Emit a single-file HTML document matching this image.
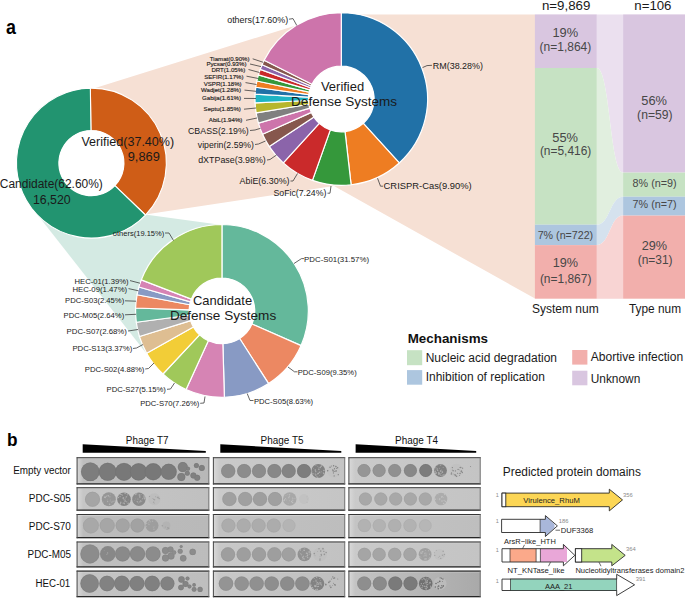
<!DOCTYPE html>
<html><head><meta charset="utf-8"><style>html,body{margin:0;padding:0;background:#fff;overflow:hidden}svg{display:block;font-family:"Liberation Sans",sans-serif}</style></head><body>
<svg width="685" height="599" viewBox="0 0 685 599">
<rect width="685" height="599" fill="#fff"/>
<path d="M90.4,89.4 L320.0,17.96 L341.3,16.0 L356,14.4 L535,14.4 L535,298.6 L334.0,186.0 L145.1,214.6 Z" fill="#f6e0d4"/>
<path d="M145.1,214.6 L222.0,225.1 L222.0,310 L154.3,363.6 L38.3,215.7 Z" fill="#d4eae3"/>
<path d="M596.8,14.4 C609.95,14.4 609.95,14.4 623.1,14.4 L623.1,172.6 C609.95,172.6 609.95,68.0 596.8,68.0 Z" fill="#ebe0ef"/>
<rect x="534.9" y="14.4" width="61.90" height="53.60" fill="#d9c6e0"/>
<rect x="623.1" y="14.4" width="62.40" height="158.20" fill="#d9c6e0"/>
<path d="M596.8,68.0 C609.95,68.0 609.95,172.6 623.1,172.6 L623.1,196.7 C609.95,196.7 609.95,224.7 596.8,224.7 Z" fill="#e1efdf"/>
<rect x="534.9" y="68.0" width="61.90" height="156.70" fill="#c6e2c3"/>
<rect x="623.1" y="172.6" width="62.40" height="24.10" fill="#c6e2c3"/>
<path d="M596.8,224.7 C609.95,224.7 609.95,196.7 623.1,196.7 L623.1,215.6 C609.95,215.6 609.95,245.1 596.8,245.1 Z" fill="#d5e2ee"/>
<rect x="534.9" y="224.7" width="61.90" height="20.40" fill="#adc6df"/>
<rect x="623.1" y="196.7" width="62.40" height="18.90" fill="#adc6df"/>
<path d="M596.8,245.1 C609.95,245.1 609.95,215.6 623.1,215.6 L623.1,298.7 C609.95,298.7 609.95,298.7 596.8,298.7 Z" fill="#f8d4d3"/>
<rect x="534.9" y="245.1" width="61.90" height="53.60" fill="#f2afac"/>
<rect x="623.1" y="215.6" width="62.40" height="83.10" fill="#f2afac"/>
<path d="M90.35,88.16A74.95,74.95 0 0 1 145.46,215.01L114.88,185.65A32.55,32.55 0 0 0 90.95,130.55Z" fill="#cf5d17" stroke="#fff" stroke-width="1.1" stroke-linejoin="round"/>
<path d="M145.46,215.01A74.95,74.95 0 1 1 90.35,88.16L90.95,130.55A32.55,32.55 0 1 0 114.88,185.65Z" fill="#229470" stroke="#fff" stroke-width="1.1" stroke-linejoin="round"/>
<path d="M341.30,12.70A86.3,86.3 0 0 1 399.25,162.95L363.32,123.31A32.8,32.8 0 0 0 341.30,66.20Z" fill="#2171a7" stroke="#fff" stroke-width="1.2" stroke-linejoin="round"/>
<path d="M399.25,162.95A86.3,86.3 0 0 1 351.12,184.74L345.03,131.59A32.8,32.8 0 0 0 363.32,123.31Z" fill="#ee7d22" stroke="#fff" stroke-width="1.2" stroke-linejoin="round"/>
<path d="M351.12,184.74A86.3,86.3 0 0 1 312.45,180.33L330.33,129.91A32.8,32.8 0 0 0 345.03,131.59Z" fill="#35983b" stroke="#fff" stroke-width="1.2" stroke-linejoin="round"/>
<path d="M312.45,180.33A86.3,86.3 0 0 1 283.31,162.92L319.26,123.29A32.8,32.8 0 0 0 330.33,129.91Z" fill="#ca2a2b" stroke="#fff" stroke-width="1.2" stroke-linejoin="round"/>
<path d="M283.31,162.92A86.3,86.3 0 0 1 269.30,146.58L313.93,117.08A32.8,32.8 0 0 0 319.26,123.29Z" fill="#8b64aa" stroke="#fff" stroke-width="1.2" stroke-linejoin="round"/>
<path d="M269.30,146.58A86.3,86.3 0 0 1 262.54,134.28L311.37,112.41A32.8,32.8 0 0 0 313.93,117.08Z" fill="#86574d" stroke="#fff" stroke-width="1.2" stroke-linejoin="round"/>
<path d="M262.54,134.28A86.3,86.3 0 0 1 258.45,123.14L309.81,108.18A32.8,32.8 0 0 0 311.37,112.41Z" fill="#cd74ab" stroke="#fff" stroke-width="1.2" stroke-linejoin="round"/>
<path d="M258.45,123.14A86.3,86.3 0 0 1 256.13,112.89L308.93,104.28A32.8,32.8 0 0 0 309.81,108.18Z" fill="#808080" stroke="#fff" stroke-width="1.2" stroke-linejoin="round"/>
<path d="M256.13,112.89A86.3,86.3 0 0 1 255.09,102.92L308.53,100.49A32.8,32.8 0 0 0 308.93,104.28Z" fill="#b7b62d" stroke="#fff" stroke-width="1.2" stroke-linejoin="round"/>
<path d="M255.09,102.92A86.3,86.3 0 0 1 255.13,94.19L308.55,97.17A32.8,32.8 0 0 0 308.53,100.49Z" fill="#1eb4c4" stroke="#fff" stroke-width="1.2" stroke-linejoin="round"/>
<path d="M255.13,94.19A86.3,86.3 0 0 1 255.80,87.28L308.80,94.55A32.8,32.8 0 0 0 308.55,97.17Z" fill="#2171a7" stroke="#fff" stroke-width="1.2" stroke-linejoin="round"/>
<path d="M255.80,87.28A86.3,86.3 0 0 1 256.90,80.98L309.22,92.15A32.8,32.8 0 0 0 308.80,94.55Z" fill="#ee7d22" stroke="#fff" stroke-width="1.2" stroke-linejoin="round"/>
<path d="M256.90,80.98A86.3,86.3 0 0 1 258.45,74.83L309.81,89.81A32.8,32.8 0 0 0 309.22,92.15Z" fill="#35983b" stroke="#fff" stroke-width="1.2" stroke-linejoin="round"/>
<path d="M258.45,74.83A86.3,86.3 0 0 1 260.23,69.42L310.49,87.76A32.8,32.8 0 0 0 309.81,89.81Z" fill="#ca2a2b" stroke="#fff" stroke-width="1.2" stroke-linejoin="round"/>
<path d="M260.23,69.42A86.3,86.3 0 0 1 262.09,64.74L311.20,85.98A32.8,32.8 0 0 0 310.49,87.76Z" fill="#8b64aa" stroke="#fff" stroke-width="1.2" stroke-linejoin="round"/>
<path d="M262.09,64.74A86.3,86.3 0 0 1 264.16,60.31L311.98,84.30A32.8,32.8 0 0 0 311.20,85.98Z" fill="#86574d" stroke="#fff" stroke-width="1.2" stroke-linejoin="round"/>
<path d="M264.16,60.31A86.3,86.3 0 0 1 341.30,12.70L341.30,66.20A32.8,32.8 0 0 0 311.98,84.30Z" fill="#cd74ab" stroke="#fff" stroke-width="1.2" stroke-linejoin="round"/>
<path d="M221.95,224.50A86.4,86.4 0 0 1 301.09,345.58L251.99,324.06A32.8,32.8 0 0 0 221.95,278.10Z" fill="#64b89b" stroke="#fff" stroke-width="1.2" stroke-linejoin="round"/>
<path d="M301.09,345.58A86.4,86.4 0 0 1 268.59,383.63L239.66,338.51A32.8,32.8 0 0 0 251.99,324.06Z" fill="#ec8862" stroke="#fff" stroke-width="1.2" stroke-linejoin="round"/>
<path d="M268.59,383.63A86.4,86.4 0 0 1 224.37,397.27L222.87,343.69A32.8,32.8 0 0 0 239.66,338.51Z" fill="#889ac4" stroke="#fff" stroke-width="1.2" stroke-linejoin="round"/>
<path d="M224.37,397.27A86.4,86.4 0 0 1 186.07,389.50L208.33,340.74A32.8,32.8 0 0 0 222.87,343.69Z" fill="#d684b4" stroke="#fff" stroke-width="1.2" stroke-linejoin="round"/>
<path d="M186.07,389.50A86.4,86.4 0 0 1 162.94,374.01L199.55,334.86A32.8,32.8 0 0 0 208.33,340.74Z" fill="#a0c85a" stroke="#fff" stroke-width="1.2" stroke-linejoin="round"/>
<path d="M162.94,374.01A86.4,86.4 0 0 1 146.64,353.25L193.36,326.98A32.8,32.8 0 0 0 199.55,334.86Z" fill="#f2cd37" stroke="#fff" stroke-width="1.2" stroke-linejoin="round"/>
<path d="M146.64,353.25A86.4,86.4 0 0 1 139.42,336.48L190.62,320.61A32.8,32.8 0 0 0 193.36,326.98Z" fill="#debe92" stroke="#fff" stroke-width="1.2" stroke-linejoin="round"/>
<path d="M139.42,336.48A86.4,86.4 0 0 1 136.30,322.28L189.44,315.22A32.8,32.8 0 0 0 190.62,320.61Z" fill="#b0b0b0" stroke="#fff" stroke-width="1.2" stroke-linejoin="round"/>
<path d="M136.30,322.28A86.4,86.4 0 0 1 135.60,307.98L189.17,309.79A32.8,32.8 0 0 0 189.44,315.22Z" fill="#64b89b" stroke="#fff" stroke-width="1.2" stroke-linejoin="round"/>
<path d="M135.60,307.98A86.4,86.4 0 0 1 137.07,294.78L189.73,304.78A32.8,32.8 0 0 0 189.17,309.79Z" fill="#ec8862" stroke="#fff" stroke-width="1.2" stroke-linejoin="round"/>
<path d="M137.07,294.78A86.4,86.4 0 0 1 138.92,287.01L190.43,301.83A32.8,32.8 0 0 0 189.73,304.78Z" fill="#889ac4" stroke="#fff" stroke-width="1.2" stroke-linejoin="round"/>
<path d="M138.92,287.01A86.4,86.4 0 0 1 141.32,279.86L191.34,299.12A32.8,32.8 0 0 0 190.43,301.83Z" fill="#d684b4" stroke="#fff" stroke-width="1.2" stroke-linejoin="round"/>
<path d="M141.32,279.86A86.4,86.4 0 0 1 221.95,224.50L221.95,278.10A32.8,32.8 0 0 0 191.34,299.12Z" fill="#a0c85a" stroke="#fff" stroke-width="1.2" stroke-linejoin="round"/>
<circle cx="91.4" cy="163.1" r="32.55" fill="#fff"/>
<circle cx="341.3" cy="99.0" r="32.8" fill="#fff"/>
<circle cx="221.95" cy="310.9" r="32.8" fill="#fff"/>
<text x="5.90" y="34.20" font-size="20" font-weight="bold" fill="#000" textLength="9.94" lengthAdjust="spacingAndGlyphs">a</text>
<text x="81.40" y="146.10" font-size="12.7" fill="#1a1a1a" textLength="92.78" lengthAdjust="spacingAndGlyphs">Verified(37.40%)</text>
<text x="127.70" y="160.50" font-size="12.7" fill="#1a1a1a" textLength="32.07" lengthAdjust="spacingAndGlyphs">9,869</text>
<text x="-0.20" y="187.60" font-size="12.5" fill="#1a1a1a" textLength="103.02" lengthAdjust="spacingAndGlyphs">Candidate(62.60%)</text>
<text x="32.90" y="204.00" font-size="12.5" fill="#1a1a1a" textLength="37.78" lengthAdjust="spacingAndGlyphs">16,520</text>
<text x="320.90" y="90.80" font-size="12.8" fill="#1a1a1a" textLength="43.31" lengthAdjust="spacingAndGlyphs">Verified</text>
<text x="291.10" y="106.20" font-size="12.8" fill="#1a1a1a" textLength="106.02" lengthAdjust="spacingAndGlyphs">Defense Systems</text>
<text x="193.00" y="304.60" font-size="12.8" fill="#1a1a1a" textLength="59.09" lengthAdjust="spacingAndGlyphs">Candidate</text>
<text x="169.90" y="319.50" font-size="12.8" fill="#1a1a1a" textLength="106.32" lengthAdjust="spacingAndGlyphs">Defense Systems</text>
<text x="227.20" y="22.50" font-size="9" fill="#1a1a1a" textLength="60.92" lengthAdjust="spacingAndGlyphs">others(17.60%)</text>
<text x="432.80" y="68.50" font-size="9" fill="#1a1a1a" textLength="50.18" lengthAdjust="spacingAndGlyphs">RM(38.28%)</text>
<text x="383.60" y="188.80" font-size="9" fill="#1a1a1a" textLength="88.11" lengthAdjust="spacingAndGlyphs">CRISPR-Cas(9.90%)</text>
<text x="273.50" y="196.00" font-size="9" fill="#1a1a1a" textLength="52.88" lengthAdjust="spacingAndGlyphs">SoFic(7.24%)</text>
<text x="239.50" y="183.60" font-size="9" fill="#1a1a1a" textLength="50.09" lengthAdjust="spacingAndGlyphs">AbiE(6.30%)</text>
<text x="198.20" y="162.80" font-size="9" fill="#1a1a1a" textLength="67.60" lengthAdjust="spacingAndGlyphs">dXTPase(3.98%)</text>
<text x="197.80" y="147.50" font-size="9" fill="#1a1a1a" textLength="56.18" lengthAdjust="spacingAndGlyphs">viperin(2.59%)</text>
<text x="188.00" y="133.70" font-size="9" fill="#1a1a1a" textLength="60.82" lengthAdjust="spacingAndGlyphs">CBASS(2.19%)</text>
<text x="209.83" y="61.40" font-size="6.1" fill="#1a1a1a" stroke="#1a1a1a" stroke-width="0.15">Tiamat(0.90%)</text>
<text x="206.48" y="66.40" font-size="6.1" fill="#1a1a1a" stroke="#1a1a1a" stroke-width="0.15">Pycsar(0.93%)</text>
<text x="211.41" y="71.70" font-size="6.1" fill="#1a1a1a" stroke="#1a1a1a" stroke-width="0.15">DRT(1.05%)</text>
<text x="204.19" y="78.70" font-size="6.1" fill="#1a1a1a" stroke="#1a1a1a" stroke-width="0.15">SEFIR(1.17%)</text>
<text x="203.73" y="86.00" font-size="6.1" fill="#1a1a1a" stroke="#1a1a1a" stroke-width="0.15">VSPR(1.18%)</text>
<text x="200.99" y="92.30" font-size="6.1" fill="#1a1a1a" stroke="#1a1a1a" stroke-width="0.15">Wadjet(1.28%)</text>
<text x="202.02" y="99.80" font-size="6.1" fill="#1a1a1a" stroke="#1a1a1a" stroke-width="0.15">Gabija(1.61%)</text>
<text x="203.60" y="111.20" font-size="6.1" fill="#1a1a1a" stroke="#1a1a1a" stroke-width="0.15">Septu(1.85%)</text>
<text x="208.82" y="122.30" font-size="6.1" fill="#1a1a1a" stroke="#1a1a1a" stroke-width="0.15">AbiL(1.94%)</text>
<path d="M289.00,19.20 L293.00,18.60 L296.80,25.50" fill="none" stroke="#333333" stroke-width="0.75"/>
<path d="M422.50,67.60 L427.00,65.60 L432.00,65.30" fill="none" stroke="#333333" stroke-width="0.75"/>
<path d="M377.50,178.20 L380.50,186.20 L383.00,186.20" fill="none" stroke="#333333" stroke-width="0.75"/>
<path d="M327.50,193.20 L330.00,193.20 L331.00,186.00" fill="none" stroke="#333333" stroke-width="0.75"/>
<path d="M290.50,181.00 L293.00,181.00 L297.50,173.50" fill="none" stroke="#333333" stroke-width="0.75"/>
<path d="M267.00,160.00 L270.00,159.50 L276.50,155.00" fill="none" stroke="#333333" stroke-width="0.75"/>
<path d="M255.00,144.50 L258.50,144.00 L265.50,141.00" fill="none" stroke="#333333" stroke-width="0.75"/>
<path d="M250.00,130.50 L255.00,130.00 L260.50,128.30" fill="none" stroke="#333333" stroke-width="0.75"/>
<path d="M252.70,58.80 L263.20,62.30" fill="none" stroke="#333333" stroke-width="0.75"/>
<path d="M250.00,64.00 L261.00,66.60" fill="none" stroke="#333333" stroke-width="0.75"/>
<path d="M248.50,69.50 L259.50,72.50" fill="none" stroke="#333333" stroke-width="0.75"/>
<path d="M246.50,76.20 L258.30,78.50" fill="none" stroke="#333333" stroke-width="0.75"/>
<path d="M245.50,82.60 L256.50,84.50" fill="none" stroke="#333333" stroke-width="0.75"/>
<path d="M244.50,90.10 L256.00,91.30" fill="none" stroke="#333333" stroke-width="0.75"/>
<path d="M244.00,98.40 L256.00,98.50" fill="none" stroke="#333333" stroke-width="0.75"/>
<path d="M244.00,109.20 L256.00,108.00" fill="none" stroke="#333333" stroke-width="0.75"/>
<path d="M246.00,120.30 L257.00,118.00" fill="none" stroke="#333333" stroke-width="0.75"/>
<text x="112.80" y="235.80" font-size="7.7" fill="#1a1a1a" textLength="51.42" lengthAdjust="spacingAndGlyphs">others(19.15%)</text>
<text x="304.10" y="262.20" font-size="7.7" fill="#1a1a1a" textLength="64.91" lengthAdjust="spacingAndGlyphs">PDC-S01(31.57%)</text>
<text x="297.70" y="374.50" font-size="7.7" fill="#1a1a1a" textLength="59.00" lengthAdjust="spacingAndGlyphs">PDC-S09(9.35%)</text>
<text x="253.90" y="403.50" font-size="7.7" fill="#1a1a1a" textLength="59.10" lengthAdjust="spacingAndGlyphs">PDC-S05(8.63%)</text>
<text x="140.20" y="406.20" font-size="7.7" fill="#1a1a1a" textLength="59.10" lengthAdjust="spacingAndGlyphs">PDC-S70(7.26%)</text>
<text x="106.50" y="392.20" font-size="7.7" fill="#1a1a1a" textLength="59.40" lengthAdjust="spacingAndGlyphs">PDC-S27(5.15%)</text>
<text x="84.80" y="371.80" font-size="7.7" fill="#1a1a1a" textLength="59.60" lengthAdjust="spacingAndGlyphs">PDC-S02(4.88%)</text>
<text x="72.40" y="351.10" font-size="7.7" fill="#1a1a1a" textLength="59.90" lengthAdjust="spacingAndGlyphs">PDC-S13(3.37%)</text>
<text x="66.60" y="333.90" font-size="7.7" fill="#1a1a1a" textLength="60.30" lengthAdjust="spacingAndGlyphs">PDC-S07(2.68%)</text>
<text x="63.60" y="318.20" font-size="7.7" fill="#1a1a1a" textLength="60.61" lengthAdjust="spacingAndGlyphs">PDC-M05(2.64%)</text>
<text x="65.10" y="303.30" font-size="7.7" fill="#1a1a1a" textLength="59.10" lengthAdjust="spacingAndGlyphs">PDC-S03(2.45%)</text>
<text x="72.40" y="291.60" font-size="7.7" fill="#1a1a1a" textLength="54.79" lengthAdjust="spacingAndGlyphs">HEC-09(1.47%)</text>
<text x="74.60" y="283.90" font-size="7.7" fill="#1a1a1a" textLength="53.99" lengthAdjust="spacingAndGlyphs">HEC-01(1.39%)</text>
<path d="M165.00,233.00 L169.00,233.00 L173.50,240.50" fill="none" stroke="#333333" stroke-width="0.75"/>
<path d="M294.00,263.50 L301.50,258.60 L304.00,258.60" fill="none" stroke="#333333" stroke-width="0.75"/>
<path d="M288.00,367.00 L294.50,371.80 L297.50,371.80" fill="none" stroke="#333333" stroke-width="0.75"/>
<path d="M247.20,393.50 L250.00,400.50 L253.50,400.50" fill="none" stroke="#333333" stroke-width="0.75"/>
<path d="M200.20,403.30 L204.00,403.00 L205.00,396.50" fill="none" stroke="#333333" stroke-width="0.75"/>
<path d="M167.00,389.30 L170.50,389.00 L174.50,383.00" fill="none" stroke="#333333" stroke-width="0.75"/>
<path d="M145.20,369.00 L148.50,368.50 L154.00,363.00" fill="none" stroke="#333333" stroke-width="0.75"/>
<path d="M133.00,348.50 L136.50,348.00 L143.00,344.50" fill="none" stroke="#333333" stroke-width="0.75"/>
<path d="M128.00,331.00 L138.00,329.50" fill="none" stroke="#333333" stroke-width="0.75"/>
<path d="M125.00,314.80 L136.00,314.30" fill="none" stroke="#333333" stroke-width="0.75"/>
<path d="M125.00,300.80 L136.00,301.20" fill="none" stroke="#333333" stroke-width="0.75"/>
<path d="M128.50,288.60 L138.50,290.80" fill="none" stroke="#333333" stroke-width="0.75"/>
<path d="M130.00,280.60 L140.00,283.20" fill="none" stroke="#333333" stroke-width="0.75"/>
<text x="541.90" y="9.90" font-size="13" fill="#1a1a1a" textLength="48.47" lengthAdjust="spacingAndGlyphs">n=9,869</text>
<text x="634.30" y="9.90" font-size="13" fill="#1a1a1a" textLength="37.18" lengthAdjust="spacingAndGlyphs">n=106</text>
<text x="552.40" y="36.80" font-size="12.3" fill="#474747" textLength="25.72" lengthAdjust="spacingAndGlyphs">19%</text>
<text x="539.60" y="50.90" font-size="12.3" fill="#474747" textLength="51.69" lengthAdjust="spacingAndGlyphs">(n=1,864)</text>
<text x="552.30" y="141.70" font-size="12.3" fill="#474747" textLength="25.72" lengthAdjust="spacingAndGlyphs">55%</text>
<text x="539.90" y="155.30" font-size="12.3" fill="#474747" textLength="51.39" lengthAdjust="spacingAndGlyphs">(n=5,416)</text>
<text x="537.70" y="239.00" font-size="10.5" fill="#474747" textLength="55.48" lengthAdjust="spacingAndGlyphs">7% (n=722)</text>
<text x="552.80" y="267.40" font-size="12.3" fill="#474747" textLength="25.32" lengthAdjust="spacingAndGlyphs">19%</text>
<text x="539.90" y="282.70" font-size="12.3" fill="#474747" textLength="51.49" lengthAdjust="spacingAndGlyphs">(n=1,867)</text>
<text x="641.30" y="104.90" font-size="12.3" fill="#474747" textLength="25.72" lengthAdjust="spacingAndGlyphs">56%</text>
<text x="637.10" y="118.90" font-size="12.3" fill="#474747" textLength="35.48" lengthAdjust="spacingAndGlyphs">(n=59)</text>
<text x="632.60" y="187.10" font-size="10.5" fill="#474747" textLength="44.01" lengthAdjust="spacingAndGlyphs">8% (n=9)</text>
<text x="632.60" y="207.70" font-size="10.5" fill="#474747" textLength="44.01" lengthAdjust="spacingAndGlyphs">7% (n=7)</text>
<text x="641.70" y="250.20" font-size="12.3" fill="#474747" textLength="25.42" lengthAdjust="spacingAndGlyphs">29%</text>
<text x="637.70" y="264.30" font-size="12.3" fill="#474747" textLength="34.88" lengthAdjust="spacingAndGlyphs">(n=31)</text>
<text x="532.00" y="313.00" font-size="12" fill="#1a1a1a" textLength="66.63" lengthAdjust="spacingAndGlyphs">System num</text>
<text x="629.00" y="313.00" font-size="12" fill="#1a1a1a" textLength="52.01" lengthAdjust="spacingAndGlyphs">Type num</text>
<text x="407.70" y="343.00" font-size="13" font-weight="bold" fill="#111" textLength="80.37" lengthAdjust="spacingAndGlyphs">Mechanisms</text>
<rect x="407" y="350.2" width="15.2" height="15" fill="#c6e2c3"/>
<rect x="407" y="370.1" width="15.2" height="14.6" fill="#adc6df"/>
<rect x="572.2" y="350" width="15.2" height="14.6" fill="#f2afac"/>
<rect x="572.2" y="370.7" width="15.2" height="14.6" fill="#d9c6e0"/>
<text x="425.70" y="361.90" font-size="12" fill="#1a1a1a" textLength="131.32" lengthAdjust="spacingAndGlyphs">Nucleic acid degradation</text>
<text x="425.70" y="381.00" font-size="12" fill="#1a1a1a" textLength="119.11" lengthAdjust="spacingAndGlyphs">Inhibition of replication</text>
<text x="590.70" y="361.00" font-size="12" fill="#1a1a1a" textLength="92.51" lengthAdjust="spacingAndGlyphs">Abortive infection</text>
<text x="590.70" y="382.90" font-size="12" fill="#1a1a1a" textLength="49.59" lengthAdjust="spacingAndGlyphs">Unknown</text>
<text x="7.00" y="445.90" font-size="19" font-weight="bold" fill="#000" textLength="10.51" lengthAdjust="spacingAndGlyphs">b</text>
<text x="125.80" y="443.80" font-size="10" fill="#111" textLength="42.69" lengthAdjust="spacingAndGlyphs">Phage T7</text>
<text x="260.60" y="443.80" font-size="10" fill="#111" textLength="42.89" lengthAdjust="spacingAndGlyphs">Phage T5</text>
<text x="395.10" y="443.80" font-size="10" fill="#111" textLength="42.89" lengthAdjust="spacingAndGlyphs">Phage T4</text>
<path d="M82.7,444.3 L205.8,451.0 L205.8,452.7 L82.7,452.7 Z" fill="#000"/>
<path d="M220.3,444.3 L341.3,451.0 L341.3,452.7 L220.3,452.7 Z" fill="#000"/>
<path d="M355.6,444.3 L476.2,451.0 L476.2,452.7 L355.6,452.7 Z" fill="#000"/>
<text x="13.20" y="473.70" font-size="10" fill="#111" textLength="57.70" lengthAdjust="spacingAndGlyphs">Empty vector</text>
<text x="28.80" y="501.80" font-size="10" fill="#111" textLength="42.09" lengthAdjust="spacingAndGlyphs">PDC-S05</text>
<text x="28.80" y="530.00" font-size="10" fill="#111" textLength="42.09" lengthAdjust="spacingAndGlyphs">PDC-S70</text>
<text x="27.60" y="558.30" font-size="10" fill="#111" textLength="43.30" lengthAdjust="spacingAndGlyphs">PDC-M05</text>
<text x="35.60" y="586.70" font-size="10" fill="#111" textLength="34.62" lengthAdjust="spacingAndGlyphs">HEC-01</text>
<g filter="url(#soft)">
<rect x="76.6" y="457.3" width="132.70" height="27.20" fill="url(#pg00)"/>
<circle cx="90.30" cy="471.80" r="9.30" fill="#7d7d7d"/>
<circle cx="90.30" cy="471.80" r="8.95" fill="none" stroke="#737373" stroke-width="0.7" opacity="0.6"/>
<circle cx="107.70" cy="471.80" r="9.00" fill="#7a7a7a"/>
<circle cx="107.70" cy="471.80" r="8.65" fill="none" stroke="#707070" stroke-width="0.7" opacity="0.6"/>
<circle cx="124.00" cy="471.80" r="8.90" fill="#787878"/>
<circle cx="124.00" cy="471.80" r="8.55" fill="none" stroke="#6e6e6e" stroke-width="0.7" opacity="0.6"/>
<circle cx="138.60" cy="471.80" r="8.60" fill="#787878"/>
<circle cx="138.60" cy="471.80" r="8.25" fill="none" stroke="#6e6e6e" stroke-width="0.7" opacity="0.6"/>
<circle cx="153.20" cy="471.80" r="8.50" fill="#787878"/>
<circle cx="153.20" cy="471.80" r="8.15" fill="none" stroke="#6e6e6e" stroke-width="0.7" opacity="0.6"/>
<circle cx="168.70" cy="471.80" r="8.00" fill="#7a7a7a"/>
<circle cx="168.70" cy="471.80" r="7.65" fill="none" stroke="#707070" stroke-width="0.7" opacity="0.6"/>
<circle cx="182.80" cy="467.10" r="5.00" fill="#808080"/>
<circle cx="182.80" cy="467.10" r="4.65" fill="none" stroke="#767676" stroke-width="0.7" opacity="0.6"/>
<circle cx="181.30" cy="477.00" r="4.00" fill="#808080"/>
<circle cx="181.30" cy="477.00" r="3.65" fill="none" stroke="#767676" stroke-width="0.7" opacity="0.6"/>
<circle cx="187.30" cy="473.20" r="2.50" fill="#828282"/>
<circle cx="187.30" cy="473.20" r="2.15" fill="none" stroke="#787878" stroke-width="0.7" opacity="0.6"/>
<circle cx="188.10" cy="468.70" r="2.00" fill="#828282"/>
<circle cx="188.10" cy="468.70" r="1.65" fill="none" stroke="#787878" stroke-width="0.7" opacity="0.6"/>
<circle cx="196.40" cy="465.60" r="2.50" fill="#808080"/>
<circle cx="196.40" cy="465.60" r="2.15" fill="none" stroke="#767676" stroke-width="0.7" opacity="0.6"/>
<circle cx="201.80" cy="467.90" r="3.00" fill="#808080"/>
<circle cx="201.80" cy="467.90" r="2.65" fill="none" stroke="#767676" stroke-width="0.7" opacity="0.6"/>
<circle cx="193.40" cy="475.50" r="3.00" fill="#808080"/>
<circle cx="193.40" cy="475.50" r="2.65" fill="none" stroke="#767676" stroke-width="0.7" opacity="0.6"/>
<circle cx="197.20" cy="477.80" r="3.00" fill="#808080"/>
<circle cx="197.20" cy="477.80" r="2.65" fill="none" stroke="#767676" stroke-width="0.7" opacity="0.6"/>
<path d="M77.10,458.50 H208.80" stroke="#e2e2e2" stroke-width="0.9" opacity="0.8"/>
<path d="M76.60,457.80 H209.30" stroke="#353535" stroke-width="1.1"/>
<path d="M76.60,483.90 H209.30" stroke="#262626" stroke-width="1.3"/>
<path d="M77.10,457.30 V484.50" stroke="#4a4a4a" stroke-width="1.0"/>
<path d="M208.80,457.30 V484.50" stroke="#707070" stroke-width="0.9"/>
<rect x="76.6" y="487.2" width="132.70" height="23.60" fill="url(#pg01)"/>
<circle cx="92.50" cy="499.30" r="7.50" fill="#a5a5a5"/>
<circle cx="92.50" cy="499.30" r="7.15" fill="none" stroke="#9b9b9b" stroke-width="0.7" opacity="0.6"/>
<circle cx="108.80" cy="499.30" r="7.00" fill="#969696"/>
<circle cx="107.68" cy="501.54" r="0.64" fill="#b5b5b5"/>
<circle cx="113.03" cy="501.37" r="0.51" fill="#b5b5b5"/>
<circle cx="113.09" cy="500.93" r="0.37" fill="#b5b5b5"/>
<circle cx="107.24" cy="499.99" r="0.39" fill="#b5b5b5"/>
<circle cx="103.59" cy="501.97" r="0.41" fill="#b5b5b5"/>
<circle cx="109.65" cy="504.33" r="0.78" fill="#b5b5b5"/>
<circle cx="105.21" cy="497.41" r="0.79" fill="#b5b5b5"/>
<circle cx="114.51" cy="501.02" r="0.48" fill="#b5b5b5"/>
<circle cx="110.16" cy="501.04" r="0.49" fill="#b5b5b5"/>
<circle cx="109.90" cy="496.79" r="0.61" fill="#b5b5b5"/>
<circle cx="106.27" cy="496.29" r="0.60" fill="#b5b5b5"/>
<circle cx="110.25" cy="499.90" r="0.44" fill="#b5b5b5"/>
<circle cx="107.02" cy="495.49" r="0.49" fill="#b5b5b5"/>
<circle cx="105.08" cy="497.08" r="0.48" fill="#b5b5b5"/>
<circle cx="110.28" cy="494.12" r="0.46" fill="#b5b5b5"/>
<circle cx="104.63" cy="497.20" r="0.74" fill="#b5b5b5"/>
<circle cx="108.35" cy="495.87" r="0.79" fill="#b5b5b5"/>
<circle cx="111.87" cy="502.11" r="0.69" fill="#b5b5b5"/>
<circle cx="124.00" cy="499.30" r="6.80" fill="#848484"/>
<circle cx="126.53" cy="502.87" r="0.37" fill="#afafaf"/>
<circle cx="121.31" cy="494.54" r="0.61" fill="#afafaf"/>
<circle cx="126.48" cy="496.83" r="0.66" fill="#afafaf"/>
<circle cx="120.05" cy="496.64" r="0.56" fill="#afafaf"/>
<circle cx="127.26" cy="494.16" r="0.56" fill="#afafaf"/>
<circle cx="123.21" cy="497.98" r="0.67" fill="#afafaf"/>
<circle cx="120.24" cy="494.32" r="0.72" fill="#afafaf"/>
<circle cx="123.16" cy="503.09" r="0.65" fill="#afafaf"/>
<circle cx="128.21" cy="499.90" r="0.43" fill="#afafaf"/>
<circle cx="125.13" cy="500.32" r="0.70" fill="#afafaf"/>
<circle cx="126.14" cy="501.56" r="0.53" fill="#afafaf"/>
<circle cx="125.23" cy="498.02" r="0.55" fill="#afafaf"/>
<circle cx="118.40" cy="497.50" r="0.72" fill="#afafaf"/>
<circle cx="126.17" cy="496.81" r="0.54" fill="#afafaf"/>
<circle cx="120.29" cy="503.86" r="0.78" fill="#afafaf"/>
<circle cx="125.53" cy="501.43" r="0.45" fill="#afafaf"/>
<circle cx="124.46" cy="503.63" r="0.62" fill="#afafaf"/>
<circle cx="123.97" cy="499.70" r="0.54" fill="#afafaf"/>
<circle cx="120.79" cy="502.75" r="0.78" fill="#afafaf"/>
<circle cx="122.36" cy="495.12" r="0.63" fill="#afafaf"/>
<circle cx="123.35" cy="498.00" r="0.75" fill="#afafaf"/>
<circle cx="125.09" cy="493.55" r="0.71" fill="#afafaf"/>
<circle cx="120.92" cy="501.77" r="0.40" fill="#afafaf"/>
<circle cx="122.96" cy="498.13" r="0.38" fill="#afafaf"/>
<circle cx="124.65" cy="501.74" r="0.50" fill="#afafaf"/>
<circle cx="124.09" cy="499.33" r="0.42" fill="#afafaf"/>
<circle cx="127.03" cy="501.55" r="0.36" fill="#afafaf"/>
<circle cx="127.45" cy="495.82" r="0.42" fill="#afafaf"/>
<circle cx="123.95" cy="502.99" r="0.51" fill="#afafaf"/>
<circle cx="128.13" cy="503.32" r="0.80" fill="#afafaf"/>
<circle cx="138.90" cy="499.30" r="6.70" fill="#8a8a8a"/>
<circle cx="134.71" cy="500.21" r="0.39" fill="#b1b1b1"/>
<circle cx="141.79" cy="501.46" r="0.47" fill="#b1b1b1"/>
<circle cx="140.08" cy="497.12" r="0.36" fill="#b1b1b1"/>
<circle cx="143.17" cy="497.94" r="0.42" fill="#b1b1b1"/>
<circle cx="137.92" cy="499.03" r="0.59" fill="#b1b1b1"/>
<circle cx="144.57" cy="498.53" r="0.66" fill="#b1b1b1"/>
<circle cx="138.64" cy="503.02" r="0.43" fill="#b1b1b1"/>
<circle cx="139.52" cy="494.84" r="0.70" fill="#b1b1b1"/>
<circle cx="137.50" cy="501.85" r="0.72" fill="#b1b1b1"/>
<circle cx="144.57" cy="498.76" r="0.71" fill="#b1b1b1"/>
<circle cx="141.11" cy="494.48" r="0.45" fill="#b1b1b1"/>
<circle cx="135.25" cy="498.89" r="0.36" fill="#b1b1b1"/>
<circle cx="142.11" cy="499.87" r="0.47" fill="#b1b1b1"/>
<circle cx="136.77" cy="493.66" r="0.55" fill="#b1b1b1"/>
<circle cx="144.55" cy="496.94" r="0.78" fill="#b1b1b1"/>
<circle cx="136.99" cy="501.48" r="0.45" fill="#b1b1b1"/>
<circle cx="139.82" cy="501.93" r="0.63" fill="#b1b1b1"/>
<circle cx="143.48" cy="495.99" r="0.57" fill="#b1b1b1"/>
<circle cx="135.74" cy="494.78" r="0.39" fill="#b1b1b1"/>
<circle cx="135.77" cy="494.32" r="0.70" fill="#b1b1b1"/>
<circle cx="138.90" cy="495.04" r="0.43" fill="#b1b1b1"/>
<circle cx="139.76" cy="495.85" r="0.71" fill="#b1b1b1"/>
<circle cx="142.72" cy="498.61" r="0.53" fill="#b1b1b1"/>
<circle cx="143.86" cy="497.58" r="0.43" fill="#b1b1b1"/>
<circle cx="140.57" cy="501.02" r="0.76" fill="#b1b1b1"/>
<circle cx="139.72" cy="497.09" r="0.72" fill="#b1b1b1"/>
<circle cx="154.40" cy="499.30" r="6.00" fill="#bdbdbd"/>
<circle cx="159.23" cy="498.70" r="0.56" fill="#a0a0a0"/>
<circle cx="152.33" cy="498.65" r="0.41" fill="#a0a0a0"/>
<circle cx="159.16" cy="498.42" r="0.64" fill="#a0a0a0"/>
<circle cx="158.01" cy="497.70" r="0.79" fill="#a0a0a0"/>
<circle cx="155.67" cy="496.85" r="0.51" fill="#a0a0a0"/>
<circle cx="153.62" cy="502.14" r="0.66" fill="#a0a0a0"/>
<circle cx="154.17" cy="503.18" r="0.46" fill="#a0a0a0"/>
<circle cx="157.41" cy="497.39" r="0.61" fill="#a0a0a0"/>
<circle cx="149.46" cy="496.45" r="0.59" fill="#a0a0a0"/>
<circle cx="158.09" cy="497.20" r="0.64" fill="#a0a0a0"/>
<circle cx="153.59" cy="499.18" r="0.60" fill="#a0a0a0"/>
<circle cx="154.55" cy="499.64" r="0.76" fill="#a0a0a0"/>
<path d="M77.10,488.40 H208.80" stroke="#e2e2e2" stroke-width="0.9" opacity="0.8"/>
<path d="M76.60,487.70 H209.30" stroke="#353535" stroke-width="1.1"/>
<path d="M76.60,510.20 H209.30" stroke="#262626" stroke-width="1.3"/>
<path d="M77.10,487.20 V510.80" stroke="#4a4a4a" stroke-width="1.0"/>
<path d="M208.80,487.20 V510.80" stroke="#707070" stroke-width="0.9"/>
<rect x="76.6" y="514.0" width="132.70" height="24.30" fill="url(#pg02)"/>
<circle cx="90.90" cy="525.50" r="7.90" fill="#a8a8a8"/>
<circle cx="90.90" cy="525.50" r="7.55" fill="none" stroke="#9e9e9e" stroke-width="0.7" opacity="0.6"/>
<circle cx="107.20" cy="525.50" r="7.50" fill="#a6a6a6"/>
<circle cx="107.20" cy="525.50" r="7.15" fill="none" stroke="#9c9c9c" stroke-width="0.7" opacity="0.6"/>
<circle cx="122.70" cy="525.50" r="7.00" fill="#a4a4a4"/>
<circle cx="122.70" cy="525.50" r="6.65" fill="none" stroke="#9a9a9a" stroke-width="0.7" opacity="0.6"/>
<circle cx="137.50" cy="525.50" r="7.00" fill="#a2a2a2"/>
<circle cx="137.50" cy="525.50" r="6.65" fill="none" stroke="#989898" stroke-width="0.7" opacity="0.6"/>
<circle cx="152.00" cy="525.50" r="6.50" fill="#9e9e9e"/>
<circle cx="153.93" cy="529.13" r="0.68" fill="#b2b2b2"/>
<circle cx="148.80" cy="524.31" r="0.58" fill="#b2b2b2"/>
<circle cx="147.02" cy="523.69" r="0.40" fill="#b2b2b2"/>
<circle cx="149.23" cy="524.40" r="0.47" fill="#b2b2b2"/>
<circle cx="152.59" cy="521.28" r="0.60" fill="#b2b2b2"/>
<circle cx="152.36" cy="519.80" r="0.55" fill="#b2b2b2"/>
<circle cx="148.77" cy="522.74" r="0.58" fill="#b2b2b2"/>
<circle cx="150.58" cy="521.74" r="0.59" fill="#b2b2b2"/>
<circle cx="146.25" cy="526.30" r="0.66" fill="#b2b2b2"/>
<circle cx="156.14" cy="521.43" r="0.47" fill="#b2b2b2"/>
<circle cx="146.59" cy="523.38" r="0.73" fill="#b2b2b2"/>
<circle cx="153.36" cy="527.08" r="0.55" fill="#b2b2b2"/>
<circle cx="154.63" cy="526.79" r="0.38" fill="#b2b2b2"/>
<circle cx="149.43" cy="520.87" r="0.75" fill="#b2b2b2"/>
<circle cx="166.30" cy="525.50" r="4.00" fill="#b3b3b3"/>
<circle cx="168.21" cy="528.29" r="0.70" fill="#a0a0a0"/>
<circle cx="168.64" cy="528.44" r="0.84" fill="#a0a0a0"/>
<circle cx="167.04" cy="529.33" r="0.58" fill="#a0a0a0"/>
<circle cx="162.33" cy="525.82" r="0.77" fill="#a0a0a0"/>
<circle cx="167.69" cy="527.73" r="0.63" fill="#a0a0a0"/>
<circle cx="165.36" cy="527.00" r="0.54" fill="#a0a0a0"/>
<path d="M77.10,515.20 H208.80" stroke="#e2e2e2" stroke-width="0.9" opacity="0.8"/>
<path d="M76.60,514.50 H209.30" stroke="#353535" stroke-width="1.1"/>
<path d="M76.60,537.70 H209.30" stroke="#262626" stroke-width="1.3"/>
<path d="M77.10,514.00 V538.30" stroke="#4a4a4a" stroke-width="1.0"/>
<path d="M208.80,514.00 V538.30" stroke="#707070" stroke-width="0.9"/>
<rect x="76.6" y="541.5" width="132.70" height="26.00" fill="url(#pg03)"/>
<circle cx="89.90" cy="553.90" r="9.50" fill="#8c8c8c"/>
<circle cx="89.90" cy="553.90" r="9.15" fill="none" stroke="#828282" stroke-width="0.7" opacity="0.6"/>
<circle cx="107.80" cy="553.90" r="7.80" fill="#888888"/>
<circle cx="107.63" cy="552.91" r="0.60" fill="#acacac"/>
<circle cx="106.90" cy="554.25" r="0.50" fill="#acacac"/>
<circle cx="104.14" cy="550.29" r="0.38" fill="#acacac"/>
<circle cx="122.60" cy="553.90" r="7.50" fill="#8a8a8a"/>
<circle cx="122.60" cy="553.90" r="7.15" fill="none" stroke="#808080" stroke-width="0.7" opacity="0.6"/>
<circle cx="137.50" cy="553.90" r="7.60" fill="#8a8a8a"/>
<circle cx="137.50" cy="553.90" r="7.25" fill="none" stroke="#808080" stroke-width="0.7" opacity="0.6"/>
<circle cx="153.00" cy="553.90" r="7.50" fill="#8c8c8c"/>
<circle cx="153.00" cy="553.90" r="7.15" fill="none" stroke="#828282" stroke-width="0.7" opacity="0.6"/>
<circle cx="165.50" cy="550.50" r="3.50" fill="#8c8c8c"/>
<circle cx="165.50" cy="550.50" r="3.15" fill="none" stroke="#828282" stroke-width="0.7" opacity="0.6"/>
<circle cx="170.50" cy="549.50" r="3.00" fill="#8c8c8c"/>
<circle cx="170.50" cy="549.50" r="2.65" fill="none" stroke="#828282" stroke-width="0.7" opacity="0.6"/>
<circle cx="171.00" cy="556.00" r="3.50" fill="#8c8c8c"/>
<circle cx="171.00" cy="556.00" r="3.15" fill="none" stroke="#828282" stroke-width="0.7" opacity="0.6"/>
<circle cx="165.50" cy="558.00" r="3.50" fill="#8c8c8c"/>
<circle cx="165.50" cy="558.00" r="3.15" fill="none" stroke="#828282" stroke-width="0.7" opacity="0.6"/>
<circle cx="174.00" cy="552.50" r="2.20" fill="#8e8e8e"/>
<circle cx="174.00" cy="552.50" r="1.85" fill="none" stroke="#848484" stroke-width="0.7" opacity="0.6"/>
<circle cx="181.20" cy="546.50" r="1.50" fill="#8c8c8c"/>
<circle cx="181.20" cy="546.50" r="1.15" fill="none" stroke="#828282" stroke-width="0.7" opacity="0.6"/>
<circle cx="180.20" cy="551.30" r="2.50" fill="#8c8c8c"/>
<circle cx="180.20" cy="551.30" r="2.15" fill="none" stroke="#828282" stroke-width="0.7" opacity="0.6"/>
<circle cx="183.20" cy="558.30" r="3.20" fill="#8c8c8c"/>
<circle cx="183.20" cy="558.30" r="2.85" fill="none" stroke="#828282" stroke-width="0.7" opacity="0.6"/>
<circle cx="192.70" cy="551.90" r="3.20" fill="#8c8c8c"/>
<circle cx="192.70" cy="551.90" r="2.85" fill="none" stroke="#828282" stroke-width="0.7" opacity="0.6"/>
<path d="M77.10,542.70 H208.80" stroke="#e2e2e2" stroke-width="0.9" opacity="0.8"/>
<path d="M76.60,542.00 H209.30" stroke="#353535" stroke-width="1.1"/>
<path d="M76.60,566.90 H209.30" stroke="#262626" stroke-width="1.3"/>
<path d="M77.10,541.50 V567.50" stroke="#4a4a4a" stroke-width="1.0"/>
<path d="M208.80,541.50 V567.50" stroke="#707070" stroke-width="0.9"/>
<rect x="76.6" y="570.6" width="132.70" height="26.60" fill="url(#pg04)"/>
<circle cx="89.60" cy="583.50" r="9.20" fill="#848484"/>
<circle cx="89.60" cy="583.50" r="8.85" fill="none" stroke="#7a7a7a" stroke-width="0.7" opacity="0.6"/>
<circle cx="107.00" cy="583.50" r="7.70" fill="#828282"/>
<circle cx="107.00" cy="583.50" r="7.35" fill="none" stroke="#787878" stroke-width="0.7" opacity="0.6"/>
<circle cx="121.90" cy="583.50" r="7.80" fill="#808080"/>
<circle cx="121.90" cy="583.50" r="7.45" fill="none" stroke="#767676" stroke-width="0.7" opacity="0.6"/>
<circle cx="137.00" cy="583.50" r="7.50" fill="#808080"/>
<circle cx="137.00" cy="583.50" r="7.15" fill="none" stroke="#767676" stroke-width="0.7" opacity="0.6"/>
<circle cx="152.20" cy="583.50" r="7.70" fill="#808080"/>
<circle cx="152.20" cy="583.50" r="7.35" fill="none" stroke="#767676" stroke-width="0.7" opacity="0.6"/>
<circle cx="167.40" cy="583.50" r="7.00" fill="#828282"/>
<circle cx="167.40" cy="583.50" r="6.65" fill="none" stroke="#787878" stroke-width="0.7" opacity="0.6"/>
<circle cx="181.50" cy="579.50" r="3.20" fill="#848484"/>
<circle cx="181.50" cy="579.50" r="2.85" fill="none" stroke="#7a7a7a" stroke-width="0.7" opacity="0.6"/>
<circle cx="185.50" cy="584.00" r="3.00" fill="#848484"/>
<circle cx="185.50" cy="584.00" r="2.65" fill="none" stroke="#7a7a7a" stroke-width="0.7" opacity="0.6"/>
<circle cx="181.00" cy="587.50" r="2.80" fill="#848484"/>
<circle cx="181.00" cy="587.50" r="2.45" fill="none" stroke="#7a7a7a" stroke-width="0.7" opacity="0.6"/>
<circle cx="187.50" cy="578.60" r="2.00" fill="#868686"/>
<circle cx="187.50" cy="578.60" r="1.65" fill="none" stroke="#7c7c7c" stroke-width="0.7" opacity="0.6"/>
<circle cx="189.50" cy="586.50" r="2.00" fill="#868686"/>
<circle cx="189.50" cy="586.50" r="1.65" fill="none" stroke="#7c7c7c" stroke-width="0.7" opacity="0.6"/>
<circle cx="194.10" cy="584.90" r="1.80" fill="#868686"/>
<circle cx="194.10" cy="584.90" r="1.45" fill="none" stroke="#7c7c7c" stroke-width="0.7" opacity="0.6"/>
<circle cx="194.10" cy="589.40" r="2.40" fill="#868686"/>
<circle cx="194.10" cy="589.40" r="2.05" fill="none" stroke="#7c7c7c" stroke-width="0.7" opacity="0.6"/>
<circle cx="200.10" cy="589.40" r="2.60" fill="#868686"/>
<circle cx="200.10" cy="589.40" r="2.25" fill="none" stroke="#7c7c7c" stroke-width="0.7" opacity="0.6"/>
<path d="M77.10,571.80 H208.80" stroke="#e2e2e2" stroke-width="0.9" opacity="0.8"/>
<path d="M76.60,571.10 H209.30" stroke="#353535" stroke-width="1.1"/>
<path d="M76.60,596.60 H209.30" stroke="#262626" stroke-width="1.3"/>
<path d="M77.10,570.60 V597.20" stroke="#4a4a4a" stroke-width="1.0"/>
<path d="M208.80,570.60 V597.20" stroke="#707070" stroke-width="0.9"/>
<rect x="212.9" y="457.3" width="132.30" height="27.20" fill="url(#pg10)"/>
<circle cx="228.20" cy="471.00" r="7.10" fill="#8e8e8e"/>
<circle cx="228.20" cy="471.00" r="6.75" fill="none" stroke="#848484" stroke-width="0.7" opacity="0.6"/>
<circle cx="244.10" cy="471.00" r="7.00" fill="#8c8c8c"/>
<circle cx="244.10" cy="471.00" r="6.65" fill="none" stroke="#828282" stroke-width="0.7" opacity="0.6"/>
<circle cx="259.00" cy="471.00" r="7.00" fill="#8c8c8c"/>
<circle cx="259.00" cy="471.00" r="6.65" fill="none" stroke="#828282" stroke-width="0.7" opacity="0.6"/>
<circle cx="274.40" cy="471.00" r="7.00" fill="#888888"/>
<circle cx="274.40" cy="471.00" r="6.65" fill="none" stroke="#7e7e7e" stroke-width="0.7" opacity="0.6"/>
<circle cx="288.70" cy="471.00" r="7.00" fill="#848484"/>
<circle cx="288.70" cy="471.00" r="6.65" fill="none" stroke="#7a7a7a" stroke-width="0.7" opacity="0.6"/>
<circle cx="304.00" cy="471.00" r="7.00" fill="#7d7d7d"/>
<circle cx="304.00" cy="471.00" r="6.65" fill="none" stroke="#737373" stroke-width="0.7" opacity="0.6"/>
<circle cx="318.30" cy="471.00" r="6.90" fill="#808080"/>
<circle cx="323.91" cy="470.47" r="0.79" fill="#b0b0b0"/>
<circle cx="320.89" cy="473.00" r="0.37" fill="#b0b0b0"/>
<circle cx="318.90" cy="467.75" r="0.41" fill="#b0b0b0"/>
<circle cx="312.95" cy="473.84" r="0.72" fill="#b0b0b0"/>
<circle cx="318.17" cy="473.45" r="0.76" fill="#b0b0b0"/>
<circle cx="313.50" cy="468.72" r="0.39" fill="#b0b0b0"/>
<circle cx="323.23" cy="472.86" r="0.54" fill="#b0b0b0"/>
<circle cx="323.82" cy="473.70" r="0.64" fill="#b0b0b0"/>
<circle cx="318.89" cy="469.26" r="0.74" fill="#b0b0b0"/>
<circle cx="323.69" cy="473.40" r="0.55" fill="#b0b0b0"/>
<circle cx="315.79" cy="475.00" r="0.77" fill="#b0b0b0"/>
<circle cx="318.04" cy="473.27" r="0.59" fill="#b0b0b0"/>
<circle cx="318.45" cy="473.09" r="0.42" fill="#b0b0b0"/>
<circle cx="321.01" cy="471.89" r="0.49" fill="#b0b0b0"/>
<circle cx="316.43" cy="476.21" r="0.48" fill="#b0b0b0"/>
<circle cx="315.62" cy="471.00" r="0.51" fill="#b0b0b0"/>
<circle cx="321.46" cy="471.36" r="0.36" fill="#b0b0b0"/>
<circle cx="317.80" cy="466.31" r="0.44" fill="#b0b0b0"/>
<circle cx="312.24" cy="471.97" r="0.40" fill="#b0b0b0"/>
<circle cx="320.05" cy="467.21" r="0.57" fill="#b0b0b0"/>
<circle cx="320.32" cy="467.57" r="0.58" fill="#b0b0b0"/>
<circle cx="315.90" cy="465.18" r="0.50" fill="#b0b0b0"/>
<circle cx="320.94" cy="466.36" r="0.64" fill="#b0b0b0"/>
<circle cx="315.21" cy="473.11" r="0.37" fill="#b0b0b0"/>
<circle cx="319.46" cy="472.23" r="0.68" fill="#b0b0b0"/>
<circle cx="318.21" cy="473.56" r="0.39" fill="#b0b0b0"/>
<circle cx="321.51" cy="466.02" r="0.65" fill="#b0b0b0"/>
<circle cx="317.68" cy="474.06" r="0.48" fill="#b0b0b0"/>
<circle cx="315.86" cy="471.64" r="0.55" fill="#b0b0b0"/>
<circle cx="317.78" cy="477.20" r="0.79" fill="#b0b0b0"/>
<circle cx="315.30" cy="470.09" r="0.78" fill="#b0b0b0"/>
<circle cx="316.91" cy="474.53" r="0.35" fill="#b0b0b0"/>
<circle cx="315.08" cy="473.96" r="0.58" fill="#b0b0b0"/>
<circle cx="319.67" cy="475.30" r="0.35" fill="#b0b0b0"/>
<circle cx="333.60" cy="471.00" r="6.50" fill="#c1c1c1"/>
<circle cx="333.43" cy="472.94" r="0.58" fill="#828282"/>
<circle cx="334.54" cy="471.25" r="0.54" fill="#828282"/>
<circle cx="334.14" cy="475.95" r="0.64" fill="#828282"/>
<circle cx="333.62" cy="465.73" r="0.72" fill="#828282"/>
<circle cx="336.54" cy="468.21" r="0.55" fill="#828282"/>
<circle cx="336.10" cy="470.76" r="0.73" fill="#828282"/>
<circle cx="332.75" cy="469.93" r="0.78" fill="#828282"/>
<circle cx="337.61" cy="467.77" r="0.73" fill="#828282"/>
<circle cx="334.52" cy="468.76" r="0.64" fill="#828282"/>
<circle cx="327.66" cy="470.84" r="0.76" fill="#828282"/>
<circle cx="335.89" cy="466.59" r="0.80" fill="#828282"/>
<circle cx="331.38" cy="466.06" r="0.50" fill="#828282"/>
<circle cx="335.93" cy="471.46" r="0.56" fill="#828282"/>
<circle cx="338.30" cy="474.64" r="0.65" fill="#828282"/>
<circle cx="330.03" cy="467.30" r="0.71" fill="#828282"/>
<circle cx="333.23" cy="471.03" r="0.76" fill="#828282"/>
<path d="M213.40,458.50 H344.70" stroke="#e2e2e2" stroke-width="0.9" opacity="0.8"/>
<path d="M212.90,457.80 H345.20" stroke="#353535" stroke-width="1.1"/>
<path d="M212.90,483.90 H345.20" stroke="#262626" stroke-width="1.3"/>
<path d="M213.40,457.30 V484.50" stroke="#4a4a4a" stroke-width="1.0"/>
<path d="M344.70,457.30 V484.50" stroke="#707070" stroke-width="0.9"/>
<rect x="212.9" y="487.2" width="132.30" height="23.60" fill="url(#pg11)"/>
<circle cx="229.40" cy="499.00" r="7.10" fill="#a0a0a0"/>
<circle cx="229.40" cy="499.00" r="6.75" fill="none" stroke="#969696" stroke-width="0.7" opacity="0.6"/>
<circle cx="245.20" cy="499.00" r="7.10" fill="#a0a0a0"/>
<circle cx="245.20" cy="499.00" r="6.75" fill="none" stroke="#969696" stroke-width="0.7" opacity="0.6"/>
<circle cx="260.00" cy="499.00" r="7.10" fill="#9e9e9e"/>
<circle cx="260.00" cy="499.00" r="6.75" fill="none" stroke="#949494" stroke-width="0.7" opacity="0.6"/>
<circle cx="275.00" cy="499.00" r="7.00" fill="#a0a0a0"/>
<circle cx="275.00" cy="499.00" r="6.65" fill="none" stroke="#969696" stroke-width="0.7" opacity="0.6"/>
<circle cx="289.70" cy="499.00" r="6.80" fill="#a8a8a8"/>
<circle cx="289.65" cy="494.56" r="0.59" fill="#bfbfbf"/>
<circle cx="288.83" cy="497.65" r="0.68" fill="#bfbfbf"/>
<circle cx="289.68" cy="500.71" r="0.47" fill="#bfbfbf"/>
<circle cx="289.33" cy="496.19" r="0.68" fill="#bfbfbf"/>
<circle cx="294.05" cy="498.33" r="0.52" fill="#bfbfbf"/>
<circle cx="284.57" cy="499.68" r="0.70" fill="#bfbfbf"/>
<circle cx="285.98" cy="495.64" r="0.38" fill="#bfbfbf"/>
<circle cx="291.59" cy="501.52" r="0.68" fill="#bfbfbf"/>
<circle cx="288.12" cy="503.44" r="0.36" fill="#bfbfbf"/>
<circle cx="292.71" cy="500.21" r="0.65" fill="#bfbfbf"/>
<circle cx="287.87" cy="494.19" r="0.48" fill="#bfbfbf"/>
<circle cx="285.46" cy="498.56" r="0.56" fill="#bfbfbf"/>
<circle cx="294.05" cy="503.01" r="0.44" fill="#bfbfbf"/>
<circle cx="295.70" cy="498.17" r="0.36" fill="#bfbfbf"/>
<circle cx="284.22" cy="500.44" r="0.79" fill="#bfbfbf"/>
<circle cx="286.62" cy="500.01" r="0.44" fill="#bfbfbf"/>
<circle cx="292.41" cy="498.04" r="0.61" fill="#bfbfbf"/>
<circle cx="292.55" cy="502.52" r="0.78" fill="#bfbfbf"/>
<circle cx="304.00" cy="499.00" r="5.00" fill="#c2c2c2"/>
<circle cx="307.05" cy="502.35" r="0.63" fill="#b9b9b9"/>
<circle cx="307.18" cy="496.26" r="0.50" fill="#b9b9b9"/>
<circle cx="306.79" cy="496.91" r="0.41" fill="#b9b9b9"/>
<circle cx="307.51" cy="499.08" r="0.60" fill="#b9b9b9"/>
<path d="M213.40,488.40 H344.70" stroke="#e2e2e2" stroke-width="0.9" opacity="0.8"/>
<path d="M212.90,487.70 H345.20" stroke="#353535" stroke-width="1.1"/>
<path d="M212.90,510.20 H345.20" stroke="#262626" stroke-width="1.3"/>
<path d="M213.40,487.20 V510.80" stroke="#4a4a4a" stroke-width="1.0"/>
<path d="M344.70,487.20 V510.80" stroke="#707070" stroke-width="0.9"/>
<rect x="212.9" y="514.0" width="132.30" height="24.30" fill="url(#pg12)"/>
<circle cx="228.40" cy="525.50" r="7.00" fill="#acacac"/>
<circle cx="228.40" cy="525.50" r="6.65" fill="none" stroke="#a2a2a2" stroke-width="0.7" opacity="0.6"/>
<circle cx="243.70" cy="525.50" r="7.00" fill="#acacac"/>
<circle cx="243.70" cy="525.50" r="6.65" fill="none" stroke="#a2a2a2" stroke-width="0.7" opacity="0.6"/>
<circle cx="258.60" cy="525.50" r="7.00" fill="#acacac"/>
<circle cx="258.60" cy="525.50" r="6.65" fill="none" stroke="#a2a2a2" stroke-width="0.7" opacity="0.6"/>
<circle cx="273.80" cy="525.50" r="7.00" fill="#acacac"/>
<circle cx="273.80" cy="525.50" r="6.65" fill="none" stroke="#a2a2a2" stroke-width="0.7" opacity="0.6"/>
<circle cx="289.00" cy="525.50" r="6.50" fill="#b4b4b4"/>
<circle cx="289.00" cy="525.50" r="6.15" fill="none" stroke="#aaaaaa" stroke-width="0.7" opacity="0.6"/>
<path d="M213.40,515.20 H344.70" stroke="#e2e2e2" stroke-width="0.9" opacity="0.8"/>
<path d="M212.90,514.50 H345.20" stroke="#353535" stroke-width="1.1"/>
<path d="M212.90,537.70 H345.20" stroke="#262626" stroke-width="1.3"/>
<path d="M213.40,514.00 V538.30" stroke="#4a4a4a" stroke-width="1.0"/>
<path d="M344.70,514.00 V538.30" stroke="#707070" stroke-width="0.9"/>
<rect x="212.9" y="541.5" width="132.30" height="26.00" fill="url(#pg13)"/>
<circle cx="228.00" cy="554.40" r="7.10" fill="#9e9e9e"/>
<circle cx="228.00" cy="554.40" r="6.75" fill="none" stroke="#949494" stroke-width="0.7" opacity="0.6"/>
<circle cx="243.70" cy="554.40" r="7.10" fill="#9e9e9e"/>
<circle cx="243.70" cy="554.40" r="6.75" fill="none" stroke="#949494" stroke-width="0.7" opacity="0.6"/>
<circle cx="259.00" cy="554.40" r="7.10" fill="#9e9e9e"/>
<circle cx="259.00" cy="554.40" r="6.75" fill="none" stroke="#949494" stroke-width="0.7" opacity="0.6"/>
<circle cx="274.40" cy="554.40" r="7.10" fill="#9e9e9e"/>
<circle cx="274.40" cy="554.40" r="6.75" fill="none" stroke="#949494" stroke-width="0.7" opacity="0.6"/>
<circle cx="288.70" cy="554.40" r="7.00" fill="#a0a0a0"/>
<circle cx="288.70" cy="554.40" r="6.65" fill="none" stroke="#969696" stroke-width="0.7" opacity="0.6"/>
<circle cx="304.40" cy="554.40" r="6.80" fill="#919191"/>
<circle cx="303.65" cy="556.62" r="0.50" fill="#b5b5b5"/>
<circle cx="302.09" cy="559.65" r="0.35" fill="#b5b5b5"/>
<circle cx="304.43" cy="548.67" r="0.40" fill="#b5b5b5"/>
<circle cx="309.13" cy="552.04" r="0.76" fill="#b5b5b5"/>
<circle cx="303.45" cy="558.10" r="0.53" fill="#b5b5b5"/>
<circle cx="309.20" cy="554.36" r="0.51" fill="#b5b5b5"/>
<circle cx="301.45" cy="555.83" r="0.37" fill="#b5b5b5"/>
<circle cx="308.99" cy="557.81" r="0.48" fill="#b5b5b5"/>
<circle cx="307.27" cy="553.17" r="0.47" fill="#b5b5b5"/>
<circle cx="301.68" cy="554.21" r="0.52" fill="#b5b5b5"/>
<circle cx="310.06" cy="552.80" r="0.72" fill="#b5b5b5"/>
<circle cx="300.33" cy="550.02" r="0.77" fill="#b5b5b5"/>
<circle cx="299.34" cy="552.79" r="0.37" fill="#b5b5b5"/>
<circle cx="303.93" cy="550.23" r="0.69" fill="#b5b5b5"/>
<circle cx="302.34" cy="551.76" r="0.37" fill="#b5b5b5"/>
<circle cx="306.40" cy="553.41" r="0.56" fill="#b5b5b5"/>
<circle cx="302.51" cy="557.24" r="0.68" fill="#b5b5b5"/>
<circle cx="307.56" cy="553.93" r="0.65" fill="#b5b5b5"/>
<circle cx="302.93" cy="558.83" r="0.53" fill="#b5b5b5"/>
<circle cx="305.65" cy="556.58" r="0.44" fill="#b5b5b5"/>
<circle cx="308.06" cy="551.94" r="0.45" fill="#b5b5b5"/>
<circle cx="309.59" cy="550.93" r="0.55" fill="#b5b5b5"/>
<circle cx="306.15" cy="556.51" r="0.39" fill="#b5b5b5"/>
<circle cx="303.37" cy="555.98" r="0.46" fill="#b5b5b5"/>
<circle cx="304.15" cy="559.12" r="0.75" fill="#b5b5b5"/>
<circle cx="304.39" cy="550.38" r="0.54" fill="#b5b5b5"/>
<circle cx="300.60" cy="553.82" r="0.50" fill="#b5b5b5"/>
<circle cx="307.45" cy="555.65" r="0.79" fill="#b5b5b5"/>
<circle cx="307.52" cy="557.56" r="0.63" fill="#b5b5b5"/>
<circle cx="306.29" cy="552.19" r="0.47" fill="#b5b5b5"/>
<circle cx="320.00" cy="554.40" r="7.00" fill="#bfbfbf"/>
<circle cx="320.04" cy="558.83" r="0.60" fill="#969696"/>
<circle cx="326.18" cy="552.56" r="0.79" fill="#969696"/>
<circle cx="321.25" cy="554.57" r="0.72" fill="#969696"/>
<circle cx="323.82" cy="551.46" r="0.66" fill="#969696"/>
<circle cx="324.38" cy="554.40" r="0.82" fill="#969696"/>
<circle cx="322.96" cy="548.64" r="0.84" fill="#969696"/>
<circle cx="320.02" cy="556.71" r="0.47" fill="#969696"/>
<circle cx="314.28" cy="553.59" r="0.82" fill="#969696"/>
<circle cx="319.00" cy="548.86" r="0.74" fill="#969696"/>
<circle cx="314.99" cy="555.78" r="0.42" fill="#969696"/>
<circle cx="320.68" cy="551.09" r="0.81" fill="#969696"/>
<circle cx="317.64" cy="551.34" r="0.46" fill="#969696"/>
<circle cx="319.94" cy="559.98" r="0.71" fill="#969696"/>
<circle cx="321.41" cy="555.60" r="0.64" fill="#969696"/>
<path d="M213.40,542.70 H344.70" stroke="#e2e2e2" stroke-width="0.9" opacity="0.8"/>
<path d="M212.90,542.00 H345.20" stroke="#353535" stroke-width="1.1"/>
<path d="M212.90,566.90 H345.20" stroke="#262626" stroke-width="1.3"/>
<path d="M213.40,541.50 V567.50" stroke="#4a4a4a" stroke-width="1.0"/>
<path d="M344.70,541.50 V567.50" stroke="#707070" stroke-width="0.9"/>
<rect x="212.9" y="570.6" width="132.30" height="26.60" fill="url(#pg14)"/>
<circle cx="226.00" cy="583.60" r="7.20" fill="#949494"/>
<circle cx="226.00" cy="583.60" r="6.85" fill="none" stroke="#8a8a8a" stroke-width="0.7" opacity="0.6"/>
<circle cx="241.70" cy="583.60" r="7.20" fill="#929292"/>
<circle cx="241.70" cy="583.60" r="6.85" fill="none" stroke="#888888" stroke-width="0.7" opacity="0.6"/>
<circle cx="256.60" cy="583.60" r="7.20" fill="#909090"/>
<circle cx="256.60" cy="583.60" r="6.85" fill="none" stroke="#868686" stroke-width="0.7" opacity="0.6"/>
<circle cx="271.70" cy="583.60" r="7.20" fill="#8e8e8e"/>
<circle cx="271.70" cy="583.60" r="6.85" fill="none" stroke="#848484" stroke-width="0.7" opacity="0.6"/>
<circle cx="287.30" cy="583.60" r="7.20" fill="#8c8c8c"/>
<circle cx="287.30" cy="583.60" r="6.85" fill="none" stroke="#828282" stroke-width="0.7" opacity="0.6"/>
<circle cx="302.40" cy="583.60" r="7.20" fill="#8c8c8c"/>
<circle cx="302.40" cy="583.60" r="6.85" fill="none" stroke="#828282" stroke-width="0.7" opacity="0.6"/>
<circle cx="317.30" cy="583.60" r="7.00" fill="#828282"/>
<circle cx="313.82" cy="581.60" r="0.45" fill="#b0b0b0"/>
<circle cx="316.77" cy="583.21" r="0.49" fill="#b0b0b0"/>
<circle cx="311.19" cy="585.14" r="0.64" fill="#b0b0b0"/>
<circle cx="320.61" cy="580.64" r="0.46" fill="#b0b0b0"/>
<circle cx="317.42" cy="589.91" r="0.67" fill="#b0b0b0"/>
<circle cx="316.96" cy="584.49" r="0.57" fill="#b0b0b0"/>
<circle cx="315.39" cy="579.89" r="0.47" fill="#b0b0b0"/>
<circle cx="314.23" cy="578.22" r="0.45" fill="#b0b0b0"/>
<circle cx="320.96" cy="584.40" r="0.54" fill="#b0b0b0"/>
<circle cx="316.12" cy="580.99" r="0.71" fill="#b0b0b0"/>
<circle cx="316.99" cy="579.03" r="0.44" fill="#b0b0b0"/>
<circle cx="320.83" cy="582.92" r="0.72" fill="#b0b0b0"/>
<circle cx="317.66" cy="586.61" r="0.69" fill="#b0b0b0"/>
<circle cx="315.55" cy="589.63" r="0.57" fill="#b0b0b0"/>
<circle cx="318.47" cy="586.41" r="0.54" fill="#b0b0b0"/>
<circle cx="314.12" cy="578.20" r="0.42" fill="#b0b0b0"/>
<circle cx="314.97" cy="585.44" r="0.79" fill="#b0b0b0"/>
<circle cx="318.22" cy="584.74" r="0.38" fill="#b0b0b0"/>
<circle cx="312.52" cy="587.39" r="0.75" fill="#b0b0b0"/>
<circle cx="316.60" cy="577.21" r="0.77" fill="#b0b0b0"/>
<circle cx="315.98" cy="586.04" r="0.77" fill="#b0b0b0"/>
<circle cx="317.27" cy="582.45" r="0.65" fill="#b0b0b0"/>
<circle cx="314.45" cy="586.32" r="0.50" fill="#b0b0b0"/>
<circle cx="317.47" cy="583.90" r="0.48" fill="#b0b0b0"/>
<circle cx="313.55" cy="588.66" r="0.41" fill="#b0b0b0"/>
<circle cx="320.16" cy="582.95" r="0.51" fill="#b0b0b0"/>
<circle cx="319.84" cy="578.34" r="0.54" fill="#b0b0b0"/>
<circle cx="321.52" cy="584.95" r="0.52" fill="#b0b0b0"/>
<circle cx="319.77" cy="582.23" r="0.51" fill="#b0b0b0"/>
<circle cx="318.19" cy="582.92" r="0.53" fill="#b0b0b0"/>
<circle cx="319.43" cy="578.38" r="0.37" fill="#b0b0b0"/>
<circle cx="318.87" cy="583.95" r="0.76" fill="#b0b0b0"/>
<circle cx="317.05" cy="589.16" r="0.75" fill="#b0b0b0"/>
<circle cx="315.52" cy="586.45" r="0.78" fill="#b0b0b0"/>
<circle cx="332.60" cy="583.60" r="7.00" fill="#bfbfbf"/>
<circle cx="329.94" cy="581.20" r="0.72" fill="#828282"/>
<circle cx="331.11" cy="586.96" r="0.40" fill="#828282"/>
<circle cx="332.84" cy="576.90" r="0.69" fill="#828282"/>
<circle cx="333.62" cy="583.22" r="0.51" fill="#828282"/>
<circle cx="325.84" cy="584.66" r="0.83" fill="#828282"/>
<circle cx="329.95" cy="585.89" r="0.59" fill="#828282"/>
<circle cx="325.86" cy="583.88" r="0.48" fill="#828282"/>
<circle cx="334.55" cy="577.91" r="0.77" fill="#828282"/>
<circle cx="333.38" cy="578.20" r="0.55" fill="#828282"/>
<circle cx="330.82" cy="587.42" r="0.75" fill="#828282"/>
<circle cx="335.33" cy="585.08" r="0.74" fill="#828282"/>
<circle cx="332.63" cy="585.38" r="0.42" fill="#828282"/>
<circle cx="328.82" cy="582.30" r="0.84" fill="#828282"/>
<circle cx="337.77" cy="578.95" r="0.52" fill="#828282"/>
<circle cx="334.48" cy="584.70" r="0.62" fill="#828282"/>
<circle cx="331.43" cy="579.07" r="0.51" fill="#828282"/>
<path d="M213.40,571.80 H344.70" stroke="#e2e2e2" stroke-width="0.9" opacity="0.8"/>
<path d="M212.90,571.10 H345.20" stroke="#353535" stroke-width="1.1"/>
<path d="M212.90,596.60 H345.20" stroke="#262626" stroke-width="1.3"/>
<path d="M213.40,570.60 V597.20" stroke="#4a4a4a" stroke-width="1.0"/>
<path d="M344.70,570.60 V597.20" stroke="#707070" stroke-width="0.9"/>
<rect x="348.4" y="457.3" width="132.30" height="27.20" fill="url(#pg20)"/>
<circle cx="364.00" cy="470.50" r="6.50" fill="#969696"/>
<circle cx="364.00" cy="470.50" r="6.15" fill="none" stroke="#8c8c8c" stroke-width="0.7" opacity="0.6"/>
<circle cx="379.10" cy="470.50" r="6.50" fill="#949494"/>
<circle cx="379.10" cy="470.50" r="6.15" fill="none" stroke="#8a8a8a" stroke-width="0.7" opacity="0.6"/>
<circle cx="394.70" cy="470.50" r="6.50" fill="#909090"/>
<circle cx="394.70" cy="470.50" r="6.15" fill="none" stroke="#868686" stroke-width="0.7" opacity="0.6"/>
<circle cx="410.40" cy="470.50" r="6.50" fill="#888888"/>
<circle cx="410.40" cy="470.50" r="6.15" fill="none" stroke="#7e7e7e" stroke-width="0.7" opacity="0.6"/>
<circle cx="425.70" cy="470.50" r="6.40" fill="#7c7c7c"/>
<circle cx="425.70" cy="470.50" r="6.05" fill="none" stroke="#727272" stroke-width="0.7" opacity="0.6"/>
<circle cx="440.50" cy="470.50" r="6.40" fill="#808080"/>
<circle cx="436.48" cy="472.81" r="0.65" fill="#b0b0b0"/>
<circle cx="440.43" cy="465.08" r="0.65" fill="#b0b0b0"/>
<circle cx="444.41" cy="474.22" r="0.48" fill="#b0b0b0"/>
<circle cx="437.22" cy="469.03" r="0.68" fill="#b0b0b0"/>
<circle cx="441.42" cy="473.28" r="0.46" fill="#b0b0b0"/>
<circle cx="443.66" cy="475.05" r="0.61" fill="#b0b0b0"/>
<circle cx="438.79" cy="473.79" r="0.80" fill="#b0b0b0"/>
<circle cx="437.67" cy="470.37" r="0.71" fill="#b0b0b0"/>
<circle cx="437.15" cy="465.69" r="0.40" fill="#b0b0b0"/>
<circle cx="435.24" cy="471.34" r="0.73" fill="#b0b0b0"/>
<circle cx="441.52" cy="469.89" r="0.48" fill="#b0b0b0"/>
<circle cx="442.38" cy="472.25" r="0.79" fill="#b0b0b0"/>
<circle cx="435.58" cy="467.67" r="0.52" fill="#b0b0b0"/>
<circle cx="443.13" cy="467.56" r="0.47" fill="#b0b0b0"/>
<circle cx="441.49" cy="464.86" r="0.40" fill="#b0b0b0"/>
<circle cx="436.68" cy="467.87" r="0.45" fill="#b0b0b0"/>
<circle cx="439.00" cy="472.13" r="0.44" fill="#b0b0b0"/>
<circle cx="440.36" cy="475.06" r="0.64" fill="#b0b0b0"/>
<circle cx="440.68" cy="471.10" r="0.50" fill="#b0b0b0"/>
<circle cx="439.40" cy="468.22" r="0.49" fill="#b0b0b0"/>
<circle cx="442.02" cy="475.53" r="0.60" fill="#b0b0b0"/>
<circle cx="442.23" cy="471.23" r="0.53" fill="#b0b0b0"/>
<circle cx="436.02" cy="469.04" r="0.39" fill="#b0b0b0"/>
<circle cx="443.03" cy="474.71" r="0.53" fill="#b0b0b0"/>
<circle cx="439.82" cy="473.69" r="0.78" fill="#b0b0b0"/>
<circle cx="438.81" cy="474.60" r="0.51" fill="#b0b0b0"/>
<circle cx="435.76" cy="473.24" r="0.80" fill="#b0b0b0"/>
<circle cx="438.79" cy="472.47" r="0.68" fill="#b0b0b0"/>
<circle cx="440.63" cy="470.93" r="0.76" fill="#b0b0b0"/>
<circle cx="435.77" cy="472.96" r="0.53" fill="#b0b0b0"/>
<circle cx="456.40" cy="470.50" r="6.70" fill="#c1c1c1"/>
<circle cx="459.77" cy="467.45" r="0.47" fill="#878787"/>
<circle cx="461.35" cy="470.96" r="0.69" fill="#878787"/>
<circle cx="458.09" cy="469.43" r="0.68" fill="#878787"/>
<circle cx="453.12" cy="473.95" r="0.47" fill="#878787"/>
<circle cx="455.40" cy="475.23" r="0.82" fill="#878787"/>
<circle cx="460.04" cy="473.46" r="0.76" fill="#878787"/>
<circle cx="459.31" cy="469.88" r="0.46" fill="#878787"/>
<circle cx="462.60" cy="468.18" r="0.62" fill="#878787"/>
<circle cx="462.49" cy="472.62" r="0.57" fill="#878787"/>
<circle cx="460.75" cy="467.51" r="0.77" fill="#878787"/>
<circle cx="459.57" cy="475.52" r="0.50" fill="#878787"/>
<circle cx="451.31" cy="473.98" r="0.77" fill="#878787"/>
<circle cx="457.68" cy="473.36" r="0.58" fill="#878787"/>
<circle cx="452.28" cy="470.03" r="0.46" fill="#878787"/>
<circle cx="456.51" cy="476.20" r="0.80" fill="#878787"/>
<circle cx="461.26" cy="471.78" r="0.74" fill="#878787"/>
<circle cx="462.36" cy="471.96" r="0.45" fill="#878787"/>
<circle cx="452.37" cy="467.59" r="0.68" fill="#878787"/>
<circle cx="454.90" cy="474.57" r="0.66" fill="#878787"/>
<circle cx="451.54" cy="472.95" r="0.60" fill="#878787"/>
<circle cx="455.45" cy="470.89" r="0.68" fill="#878787"/>
<circle cx="453.16" cy="470.71" r="0.74" fill="#878787"/>
<circle cx="470.40" cy="467.10" r="0.80" fill="#c1c1c1"/>
<circle cx="470.50" cy="466.57" r="0.48" fill="#787878"/>
<path d="M348.90,458.50 H480.20" stroke="#e2e2e2" stroke-width="0.9" opacity="0.8"/>
<path d="M348.40,457.80 H480.70" stroke="#353535" stroke-width="1.1"/>
<path d="M348.40,483.90 H480.70" stroke="#262626" stroke-width="1.3"/>
<path d="M348.90,457.30 V484.50" stroke="#4a4a4a" stroke-width="1.0"/>
<path d="M480.20,457.30 V484.50" stroke="#707070" stroke-width="0.9"/>
<rect x="348.4" y="487.2" width="132.30" height="23.60" fill="url(#pg21)"/>
<circle cx="365.40" cy="499.00" r="6.50" fill="#a8a8a8"/>
<circle cx="365.40" cy="499.00" r="6.15" fill="none" stroke="#9e9e9e" stroke-width="0.7" opacity="0.6"/>
<circle cx="380.80" cy="499.00" r="6.50" fill="#a8a8a8"/>
<circle cx="380.80" cy="499.00" r="6.15" fill="none" stroke="#9e9e9e" stroke-width="0.7" opacity="0.6"/>
<circle cx="395.70" cy="499.00" r="6.50" fill="#a8a8a8"/>
<circle cx="395.70" cy="499.00" r="6.15" fill="none" stroke="#9e9e9e" stroke-width="0.7" opacity="0.6"/>
<circle cx="410.40" cy="499.00" r="6.50" fill="#a8a8a8"/>
<circle cx="410.40" cy="499.00" r="6.15" fill="none" stroke="#9e9e9e" stroke-width="0.7" opacity="0.6"/>
<circle cx="425.30" cy="499.00" r="6.50" fill="#a8a8a8"/>
<circle cx="425.30" cy="499.00" r="6.15" fill="none" stroke="#9e9e9e" stroke-width="0.7" opacity="0.6"/>
<circle cx="441.00" cy="499.00" r="6.30" fill="#acacac"/>
<circle cx="439.13" cy="499.32" r="0.41" fill="#c0c0c0"/>
<circle cx="439.41" cy="499.74" r="0.55" fill="#c0c0c0"/>
<circle cx="439.83" cy="498.93" r="0.64" fill="#c0c0c0"/>
<circle cx="445.32" cy="501.45" r="0.70" fill="#c0c0c0"/>
<circle cx="439.65" cy="498.90" r="0.58" fill="#c0c0c0"/>
<circle cx="436.93" cy="502.92" r="0.41" fill="#c0c0c0"/>
<circle cx="444.60" cy="494.48" r="0.68" fill="#c0c0c0"/>
<circle cx="442.01" cy="496.66" r="0.79" fill="#c0c0c0"/>
<circle cx="435.34" cy="499.29" r="0.76" fill="#c0c0c0"/>
<circle cx="443.62" cy="503.43" r="0.77" fill="#c0c0c0"/>
<circle cx="444.15" cy="500.37" r="0.69" fill="#c0c0c0"/>
<circle cx="443.98" cy="503.61" r="0.47" fill="#c0c0c0"/>
<circle cx="441.88" cy="496.99" r="0.58" fill="#c0c0c0"/>
<circle cx="443.32" cy="497.72" r="0.47" fill="#c0c0c0"/>
<circle cx="437.73" cy="498.88" r="0.37" fill="#c0c0c0"/>
<circle cx="441.96" cy="501.12" r="0.77" fill="#c0c0c0"/>
<circle cx="438.65" cy="494.04" r="0.43" fill="#c0c0c0"/>
<circle cx="441.43" cy="497.08" r="0.59" fill="#c0c0c0"/>
<path d="M348.90,488.40 H480.20" stroke="#e2e2e2" stroke-width="0.9" opacity="0.8"/>
<path d="M348.40,487.70 H480.70" stroke="#353535" stroke-width="1.1"/>
<path d="M348.40,510.20 H480.70" stroke="#262626" stroke-width="1.3"/>
<path d="M348.90,487.20 V510.80" stroke="#4a4a4a" stroke-width="1.0"/>
<path d="M480.20,487.20 V510.80" stroke="#707070" stroke-width="0.9"/>
<rect x="348.4" y="514.0" width="132.30" height="24.30" fill="url(#pg22)"/>
<circle cx="364.40" cy="525.50" r="6.60" fill="#b2b2b2"/>
<circle cx="364.40" cy="525.50" r="6.25" fill="none" stroke="#a8a8a8" stroke-width="0.7" opacity="0.6"/>
<circle cx="379.30" cy="525.50" r="6.60" fill="#b2b2b2"/>
<circle cx="379.30" cy="525.50" r="6.25" fill="none" stroke="#a8a8a8" stroke-width="0.7" opacity="0.6"/>
<circle cx="394.70" cy="525.50" r="6.60" fill="#b0b0b0"/>
<circle cx="394.70" cy="525.50" r="6.25" fill="none" stroke="#a6a6a6" stroke-width="0.7" opacity="0.6"/>
<circle cx="410.00" cy="525.50" r="6.60" fill="#b2b2b2"/>
<circle cx="410.00" cy="525.50" r="6.25" fill="none" stroke="#a8a8a8" stroke-width="0.7" opacity="0.6"/>
<circle cx="425.30" cy="525.50" r="6.30" fill="#b6b6b6"/>
<circle cx="425.30" cy="525.50" r="5.95" fill="none" stroke="#acacac" stroke-width="0.7" opacity="0.6"/>
<path d="M348.90,515.20 H480.20" stroke="#e2e2e2" stroke-width="0.9" opacity="0.8"/>
<path d="M348.40,514.50 H480.70" stroke="#353535" stroke-width="1.1"/>
<path d="M348.40,537.70 H480.70" stroke="#262626" stroke-width="1.3"/>
<path d="M348.90,514.00 V538.30" stroke="#4a4a4a" stroke-width="1.0"/>
<path d="M480.20,514.00 V538.30" stroke="#707070" stroke-width="0.9"/>
<rect x="348.4" y="541.5" width="132.30" height="26.00" fill="url(#pg23)"/>
<circle cx="364.40" cy="554.40" r="6.60" fill="#a5a5a5"/>
<circle cx="364.40" cy="554.40" r="6.25" fill="none" stroke="#9b9b9b" stroke-width="0.7" opacity="0.6"/>
<circle cx="379.10" cy="554.40" r="6.60" fill="#a5a5a5"/>
<circle cx="379.10" cy="554.40" r="6.25" fill="none" stroke="#9b9b9b" stroke-width="0.7" opacity="0.6"/>
<circle cx="394.70" cy="554.40" r="6.60" fill="#a5a5a5"/>
<circle cx="394.70" cy="554.40" r="6.25" fill="none" stroke="#9b9b9b" stroke-width="0.7" opacity="0.6"/>
<circle cx="410.00" cy="554.40" r="6.60" fill="#a5a5a5"/>
<circle cx="410.00" cy="554.40" r="6.25" fill="none" stroke="#9b9b9b" stroke-width="0.7" opacity="0.6"/>
<circle cx="425.10" cy="554.40" r="6.40" fill="#a0a0a0"/>
<circle cx="422.79" cy="551.73" r="0.74" fill="#bbbbbb"/>
<circle cx="420.88" cy="552.88" r="0.75" fill="#bbbbbb"/>
<circle cx="429.74" cy="557.98" r="0.63" fill="#bbbbbb"/>
<circle cx="420.96" cy="557.64" r="0.47" fill="#bbbbbb"/>
<circle cx="429.57" cy="554.13" r="0.51" fill="#bbbbbb"/>
<circle cx="425.46" cy="550.50" r="0.43" fill="#bbbbbb"/>
<circle cx="425.05" cy="553.11" r="0.72" fill="#bbbbbb"/>
<circle cx="424.99" cy="559.11" r="0.79" fill="#bbbbbb"/>
<circle cx="420.98" cy="551.94" r="0.49" fill="#bbbbbb"/>
<circle cx="426.18" cy="554.41" r="0.42" fill="#bbbbbb"/>
<circle cx="422.21" cy="551.82" r="0.58" fill="#bbbbbb"/>
<circle cx="426.79" cy="553.09" r="0.45" fill="#bbbbbb"/>
<circle cx="424.60" cy="553.68" r="0.35" fill="#bbbbbb"/>
<circle cx="423.92" cy="555.92" r="0.51" fill="#bbbbbb"/>
<circle cx="425.82" cy="558.84" r="0.62" fill="#bbbbbb"/>
<circle cx="426.42" cy="558.86" r="0.56" fill="#bbbbbb"/>
<circle cx="428.88" cy="558.67" r="0.46" fill="#bbbbbb"/>
<circle cx="426.18" cy="555.87" r="0.64" fill="#bbbbbb"/>
<circle cx="428.69" cy="550.63" r="0.53" fill="#bbbbbb"/>
<circle cx="425.04" cy="555.03" r="0.64" fill="#bbbbbb"/>
<circle cx="421.88" cy="553.07" r="0.64" fill="#bbbbbb"/>
<circle cx="419.75" cy="556.37" r="0.68" fill="#bbbbbb"/>
<circle cx="425.15" cy="560.00" r="0.37" fill="#bbbbbb"/>
<circle cx="421.42" cy="553.66" r="0.46" fill="#bbbbbb"/>
<circle cx="439.40" cy="554.40" r="5.50" fill="#c1c1c1"/>
<circle cx="443.93" cy="556.14" r="0.41" fill="#a0a0a0"/>
<circle cx="434.34" cy="552.72" r="0.46" fill="#a0a0a0"/>
<circle cx="440.74" cy="558.47" r="0.63" fill="#a0a0a0"/>
<circle cx="436.28" cy="550.55" r="0.48" fill="#a0a0a0"/>
<circle cx="438.30" cy="557.21" r="0.42" fill="#a0a0a0"/>
<circle cx="443.14" cy="551.28" r="0.72" fill="#a0a0a0"/>
<circle cx="444.45" cy="554.60" r="0.74" fill="#a0a0a0"/>
<circle cx="434.78" cy="555.43" r="0.60" fill="#a0a0a0"/>
<circle cx="439.67" cy="556.16" r="0.50" fill="#a0a0a0"/>
<circle cx="442.49" cy="555.17" r="0.74" fill="#a0a0a0"/>
<path d="M348.90,542.70 H480.20" stroke="#e2e2e2" stroke-width="0.9" opacity="0.8"/>
<path d="M348.40,542.00 H480.70" stroke="#353535" stroke-width="1.1"/>
<path d="M348.40,566.90 H480.70" stroke="#262626" stroke-width="1.3"/>
<path d="M348.90,541.50 V567.50" stroke="#4a4a4a" stroke-width="1.0"/>
<path d="M480.20,541.50 V567.50" stroke="#707070" stroke-width="0.9"/>
<rect x="348.4" y="570.6" width="132.30" height="26.60" fill="url(#pg24)"/>
<circle cx="364.20" cy="583.50" r="7.00" fill="#8e8e8e"/>
<circle cx="364.20" cy="583.50" r="6.65" fill="none" stroke="#848484" stroke-width="0.7" opacity="0.6"/>
<circle cx="379.80" cy="583.50" r="7.00" fill="#8a8a8a"/>
<circle cx="379.80" cy="583.50" r="6.65" fill="none" stroke="#808080" stroke-width="0.7" opacity="0.6"/>
<circle cx="395.30" cy="583.50" r="7.00" fill="#7a7a7a"/>
<circle cx="395.30" cy="583.50" r="6.65" fill="none" stroke="#707070" stroke-width="0.7" opacity="0.6"/>
<circle cx="410.50" cy="583.50" r="7.00" fill="#7a7a7a"/>
<circle cx="410.50" cy="583.50" r="6.65" fill="none" stroke="#707070" stroke-width="0.7" opacity="0.6"/>
<circle cx="425.70" cy="583.50" r="6.80" fill="#707070"/>
<circle cx="423.75" cy="578.09" r="0.67" fill="#a7a7a7"/>
<circle cx="425.23" cy="588.13" r="0.55" fill="#a7a7a7"/>
<circle cx="426.78" cy="579.11" r="0.47" fill="#a7a7a7"/>
<circle cx="421.84" cy="578.72" r="0.45" fill="#a7a7a7"/>
<circle cx="426.26" cy="582.97" r="0.47" fill="#a7a7a7"/>
<circle cx="426.17" cy="588.88" r="0.78" fill="#a7a7a7"/>
<circle cx="425.61" cy="579.92" r="0.75" fill="#a7a7a7"/>
<circle cx="424.25" cy="586.19" r="0.76" fill="#a7a7a7"/>
<circle cx="422.15" cy="579.69" r="0.65" fill="#a7a7a7"/>
<circle cx="429.95" cy="582.94" r="0.73" fill="#a7a7a7"/>
<circle cx="423.83" cy="578.02" r="0.55" fill="#a7a7a7"/>
<circle cx="424.95" cy="578.84" r="0.49" fill="#a7a7a7"/>
<circle cx="426.87" cy="588.30" r="0.39" fill="#a7a7a7"/>
<circle cx="427.71" cy="582.23" r="0.36" fill="#a7a7a7"/>
<circle cx="430.43" cy="587.25" r="0.51" fill="#a7a7a7"/>
<circle cx="426.37" cy="584.32" r="0.37" fill="#a7a7a7"/>
<circle cx="423.94" cy="578.84" r="0.66" fill="#a7a7a7"/>
<circle cx="425.57" cy="581.90" r="0.62" fill="#a7a7a7"/>
<circle cx="422.00" cy="587.78" r="0.72" fill="#a7a7a7"/>
<circle cx="426.95" cy="582.49" r="0.74" fill="#a7a7a7"/>
<circle cx="430.92" cy="580.39" r="0.40" fill="#a7a7a7"/>
<circle cx="426.27" cy="585.51" r="0.37" fill="#a7a7a7"/>
<circle cx="428.95" cy="578.89" r="0.64" fill="#a7a7a7"/>
<circle cx="427.96" cy="579.07" r="0.48" fill="#a7a7a7"/>
<circle cx="427.28" cy="584.65" r="0.69" fill="#a7a7a7"/>
<circle cx="426.69" cy="586.89" r="0.54" fill="#a7a7a7"/>
<circle cx="428.84" cy="583.92" r="0.48" fill="#a7a7a7"/>
<circle cx="424.89" cy="579.79" r="0.49" fill="#a7a7a7"/>
<circle cx="430.03" cy="582.50" r="0.73" fill="#a7a7a7"/>
<circle cx="424.89" cy="582.76" r="0.54" fill="#a7a7a7"/>
<circle cx="420.63" cy="585.64" r="0.51" fill="#a7a7a7"/>
<circle cx="424.41" cy="579.10" r="0.45" fill="#a7a7a7"/>
<circle cx="426.92" cy="582.06" r="0.72" fill="#a7a7a7"/>
<circle cx="425.81" cy="583.70" r="0.44" fill="#a7a7a7"/>
<circle cx="426.17" cy="577.33" r="0.35" fill="#a7a7a7"/>
<circle cx="421.32" cy="583.75" r="0.71" fill="#a7a7a7"/>
<circle cx="427.46" cy="587.53" r="0.51" fill="#a7a7a7"/>
<circle cx="427.27" cy="580.72" r="0.77" fill="#a7a7a7"/>
<circle cx="425.09" cy="586.33" r="0.66" fill="#a7a7a7"/>
<circle cx="423.63" cy="583.52" r="0.64" fill="#a7a7a7"/>
<circle cx="430.55" cy="586.20" r="0.66" fill="#a7a7a7"/>
<circle cx="426.84" cy="578.68" r="0.51" fill="#a7a7a7"/>
<circle cx="422.50" cy="585.78" r="0.75" fill="#a7a7a7"/>
<circle cx="430.75" cy="586.54" r="0.36" fill="#a7a7a7"/>
<circle cx="426.57" cy="586.59" r="0.76" fill="#a7a7a7"/>
<circle cx="440.00" cy="583.50" r="6.50" fill="#bbbbbb"/>
<circle cx="436.00" cy="583.47" r="0.80" fill="#6e6e6e"/>
<circle cx="440.45" cy="587.89" r="0.64" fill="#6e6e6e"/>
<circle cx="440.16" cy="577.86" r="0.69" fill="#6e6e6e"/>
<circle cx="437.85" cy="586.53" r="0.47" fill="#6e6e6e"/>
<circle cx="442.92" cy="579.09" r="0.73" fill="#6e6e6e"/>
<circle cx="442.09" cy="587.27" r="0.75" fill="#6e6e6e"/>
<circle cx="437.97" cy="582.40" r="0.61" fill="#6e6e6e"/>
<circle cx="442.38" cy="581.40" r="0.49" fill="#6e6e6e"/>
<circle cx="438.27" cy="588.67" r="0.78" fill="#6e6e6e"/>
<circle cx="441.45" cy="585.62" r="0.51" fill="#6e6e6e"/>
<circle cx="437.83" cy="587.66" r="0.47" fill="#6e6e6e"/>
<circle cx="438.67" cy="585.99" r="0.84" fill="#6e6e6e"/>
<circle cx="439.72" cy="581.44" r="0.83" fill="#6e6e6e"/>
<circle cx="443.24" cy="585.90" r="0.84" fill="#6e6e6e"/>
<circle cx="441.55" cy="578.15" r="0.60" fill="#6e6e6e"/>
<circle cx="441.72" cy="588.40" r="0.45" fill="#6e6e6e"/>
<circle cx="441.09" cy="587.40" r="0.42" fill="#6e6e6e"/>
<circle cx="435.34" cy="586.93" r="0.71" fill="#6e6e6e"/>
<path d="M348.90,571.80 H480.20" stroke="#e2e2e2" stroke-width="0.9" opacity="0.8"/>
<path d="M348.40,571.10 H480.70" stroke="#353535" stroke-width="1.1"/>
<path d="M348.40,596.60 H480.70" stroke="#262626" stroke-width="1.3"/>
<path d="M348.90,570.60 V597.20" stroke="#4a4a4a" stroke-width="1.0"/>
<path d="M480.20,570.60 V597.20" stroke="#707070" stroke-width="0.9"/>
</g>
<text x="502.80" y="476.20" font-size="12" fill="#1a1a1a" textLength="138.08" lengthAdjust="spacingAndGlyphs">Predicted protein domains</text>
<path d="M502,493.1 L609.3,493.1 L609.3,489.2 L622.5,499.9 L609.3,510.9 L609.3,506.7 L502,506.7 Z" fill="#fcd655" stroke="#2a2a2a" stroke-width="0.9" stroke-linejoin="miter"/>
<rect x="502" y="493.1" width="3.8" height="13.6" fill="#fff" stroke="#2a2a2a" stroke-width="0.9"/>
<text x="523.30" y="503.20" font-size="7.6" fill="#222" textLength="56.50" lengthAdjust="spacingAndGlyphs">Virulence_RhuM</text>
<text x="495.80" y="497.20" font-size="5.5" fill="#8a8a8a">1</text>
<text x="623.10" y="497.20" font-size="5.8" fill="#8a8a8a" textLength="9.69" lengthAdjust="spacingAndGlyphs">356</text>
<path d="M540.1,519.3 L545.4,519.3 L545.4,515.6 L554.5,524.3 L554.5,527.7 L545.4,536.5 L545.4,532.5 L540.1,532.5 Z" fill="#a9b7da"/>
<path d="M501.6,519.3 L545.4,519.3 L545.4,515.6 L557.4,525.9 L545.4,536.5 L545.4,532.5 L501.6,532.5 Z" fill="none" stroke="#2a2a2a" stroke-width="0.9"/>
<line x1="540.1" y1="519.3" x2="540.1" y2="532.5" stroke="#2a2a2a" stroke-width="0.7"/>
<text x="495.80" y="523.20" font-size="5.5" fill="#8a8a8a">1</text>
<text x="558.70" y="522.80" font-size="5.8" fill="#8a8a8a" textLength="9.69" lengthAdjust="spacingAndGlyphs">186</text>
<path d="M555.50,530.20 L560.00,530.20" fill="none" stroke="#2a2a2a" stroke-width="0.7"/>
<text x="560.70" y="532.80" font-size="7.6" fill="#222" textLength="32.60" lengthAdjust="spacingAndGlyphs">DUF3368</text>
<text x="504.10" y="544.20" font-size="7.6" fill="#222" textLength="51.69" lengthAdjust="spacingAndGlyphs">ArsR−like_HTH</text>
<path d="M524.50,544.80 L522.50,548.70" fill="none" stroke="#2a2a2a" stroke-width="0.7"/>
<path d="M510,548.7 L536.1,548.7 L536.1,562 L510,562 Z" fill="#fba98a"/>
<path d="M540.4,548.7 L563.4,548.7 L563.4,544.4 L567,547.6 L567,562 L540.4,562 Z" fill="#e9a7d8"/>
<path d="M502,548.7 L563.4,548.7 L563.4,544.4 L574.8,555.35 L563.4,565.8 L563.4,562 L502,562 Z" fill="none" stroke="#2a2a2a" stroke-width="0.9"/>
<line x1="510" y1="548.7" x2="510" y2="562" stroke="#2a2a2a" stroke-width="0.7"/>
<line x1="536.1" y1="548.7" x2="536.1" y2="562" stroke="#2a2a2a" stroke-width="0.7"/>
<line x1="540.4" y1="548.7" x2="540.4" y2="562" stroke="#2a2a2a" stroke-width="0.7"/>
<path d="M575.4,548.7 L611.8,548.7 L611.8,544.4 L625.2,555.35 L611.8,565.8 L611.8,562 L575.4,562 Z" fill="#c4e38a" stroke="#2a2a2a" stroke-width="0.9"/>
<rect x="575.4" y="548.7" width="6.3" height="13.3" fill="#fff" stroke="#2a2a2a" stroke-width="0.9"/>
<text x="495.80" y="552.30" font-size="5.5" fill="#8a8a8a">1</text>
<text x="626.00" y="550.90" font-size="5.8" fill="#8a8a8a" textLength="9.69" lengthAdjust="spacingAndGlyphs">364</text>
<path d="M550.50,562.20 L548.50,566.20" fill="none" stroke="#2a2a2a" stroke-width="0.7"/>
<path d="M599.00,562.20 L601.00,566.20" fill="none" stroke="#2a2a2a" stroke-width="0.7"/>
<text x="507.60" y="572.60" font-size="7.6" fill="#222" textLength="56.98" lengthAdjust="spacingAndGlyphs">NT_KNTase_like</text>
<text x="575.40" y="572.60" font-size="7.6" fill="#222" textLength="109.08" lengthAdjust="spacingAndGlyphs">Nucleotidyltransferases domain2</text>
<path d="M502,579.1 L616.7,579.1 L616.7,574.3 L634.6,584.8 L616.7,595.6 L616.7,590.5 L502,590.5 Z" fill="#fff" stroke="#2a2a2a" stroke-width="0.9"/>
<rect x="510.5" y="579.1" width="106.2" height="11.4" fill="#93d4bd" stroke="#2a2a2a" stroke-width="0.7"/>
<text x="495.80" y="583.30" font-size="5.5" fill="#8a8a8a">1</text>
<text x="635.70" y="580.80" font-size="5.8" fill="#8a8a8a" textLength="9.69" lengthAdjust="spacingAndGlyphs">391</text>
<text x="544.90" y="588.50" font-size="7.6" fill="#222" textLength="27.60" lengthAdjust="spacingAndGlyphs">AAA_21</text>
<defs><linearGradient id="pg00" x1="0" y1="0" x2="1" y2="0"><stop offset="0" stop-color="#dadada"/><stop offset="0.05" stop-color="#bebebe"/><stop offset="1" stop-color="#b8b8b8"/></linearGradient><linearGradient id="pg01" x1="0" y1="0" x2="1" y2="0"><stop offset="0" stop-color="#dadada"/><stop offset="0.05" stop-color="#c6c6c6"/><stop offset="1" stop-color="#c0c0c0"/></linearGradient><linearGradient id="pg02" x1="0" y1="0" x2="1" y2="0"><stop offset="0" stop-color="#dadada"/><stop offset="0.05" stop-color="#bcbcbc"/><stop offset="1" stop-color="#b9b9b9"/></linearGradient><linearGradient id="pg03" x1="0" y1="0" x2="1" y2="0"><stop offset="0" stop-color="#dadada"/><stop offset="0.05" stop-color="#c0c0c0"/><stop offset="1" stop-color="#bcbcbc"/></linearGradient><linearGradient id="pg04" x1="0" y1="0" x2="1" y2="0"><stop offset="0" stop-color="#dadada"/><stop offset="0.05" stop-color="#c4c4c4"/><stop offset="1" stop-color="#bebebe"/></linearGradient><linearGradient id="pg10" x1="0" y1="0" x2="1" y2="0"><stop offset="0" stop-color="#dadada"/><stop offset="0.05" stop-color="#cacaca"/><stop offset="1" stop-color="#c4c4c4"/></linearGradient><linearGradient id="pg11" x1="0" y1="0" x2="1" y2="0"><stop offset="0" stop-color="#dadada"/><stop offset="0.05" stop-color="#cbcbcb"/><stop offset="1" stop-color="#c5c5c5"/></linearGradient><linearGradient id="pg12" x1="0" y1="0" x2="1" y2="0"><stop offset="0" stop-color="#dadada"/><stop offset="0.05" stop-color="#c2c2c2"/><stop offset="1" stop-color="#bdbdbd"/></linearGradient><linearGradient id="pg13" x1="0" y1="0" x2="1" y2="0"><stop offset="0" stop-color="#dadada"/><stop offset="0.05" stop-color="#c8c8c8"/><stop offset="1" stop-color="#c2c2c2"/></linearGradient><linearGradient id="pg14" x1="0" y1="0" x2="1" y2="0"><stop offset="0" stop-color="#dadada"/><stop offset="0.05" stop-color="#c8c8c8"/><stop offset="1" stop-color="#bebebe"/></linearGradient><linearGradient id="pg20" x1="0" y1="0" x2="1" y2="0"><stop offset="0" stop-color="#dadada"/><stop offset="0.05" stop-color="#cacaca"/><stop offset="1" stop-color="#c4c4c4"/></linearGradient><linearGradient id="pg21" x1="0" y1="0" x2="1" y2="0"><stop offset="0" stop-color="#dadada"/><stop offset="0.05" stop-color="#cacaca"/><stop offset="1" stop-color="#c4c4c4"/></linearGradient><linearGradient id="pg22" x1="0" y1="0" x2="1" y2="0"><stop offset="0" stop-color="#dadada"/><stop offset="0.05" stop-color="#c4c4c4"/><stop offset="1" stop-color="#bebebe"/></linearGradient><linearGradient id="pg23" x1="0" y1="0" x2="1" y2="0"><stop offset="0" stop-color="#dadada"/><stop offset="0.05" stop-color="#cacaca"/><stop offset="1" stop-color="#c4c4c4"/></linearGradient><linearGradient id="pg24" x1="0" y1="0" x2="1" y2="0"><stop offset="0" stop-color="#dadada"/><stop offset="0.05" stop-color="#c4c4c4"/><stop offset="1" stop-color="#a9a9a9"/></linearGradient><filter id="soft" x="-2%" y="-10%" width="104%" height="120%"><feGaussianBlur stdDeviation="0.55"/></filter></defs>
</svg>
</body></html>
